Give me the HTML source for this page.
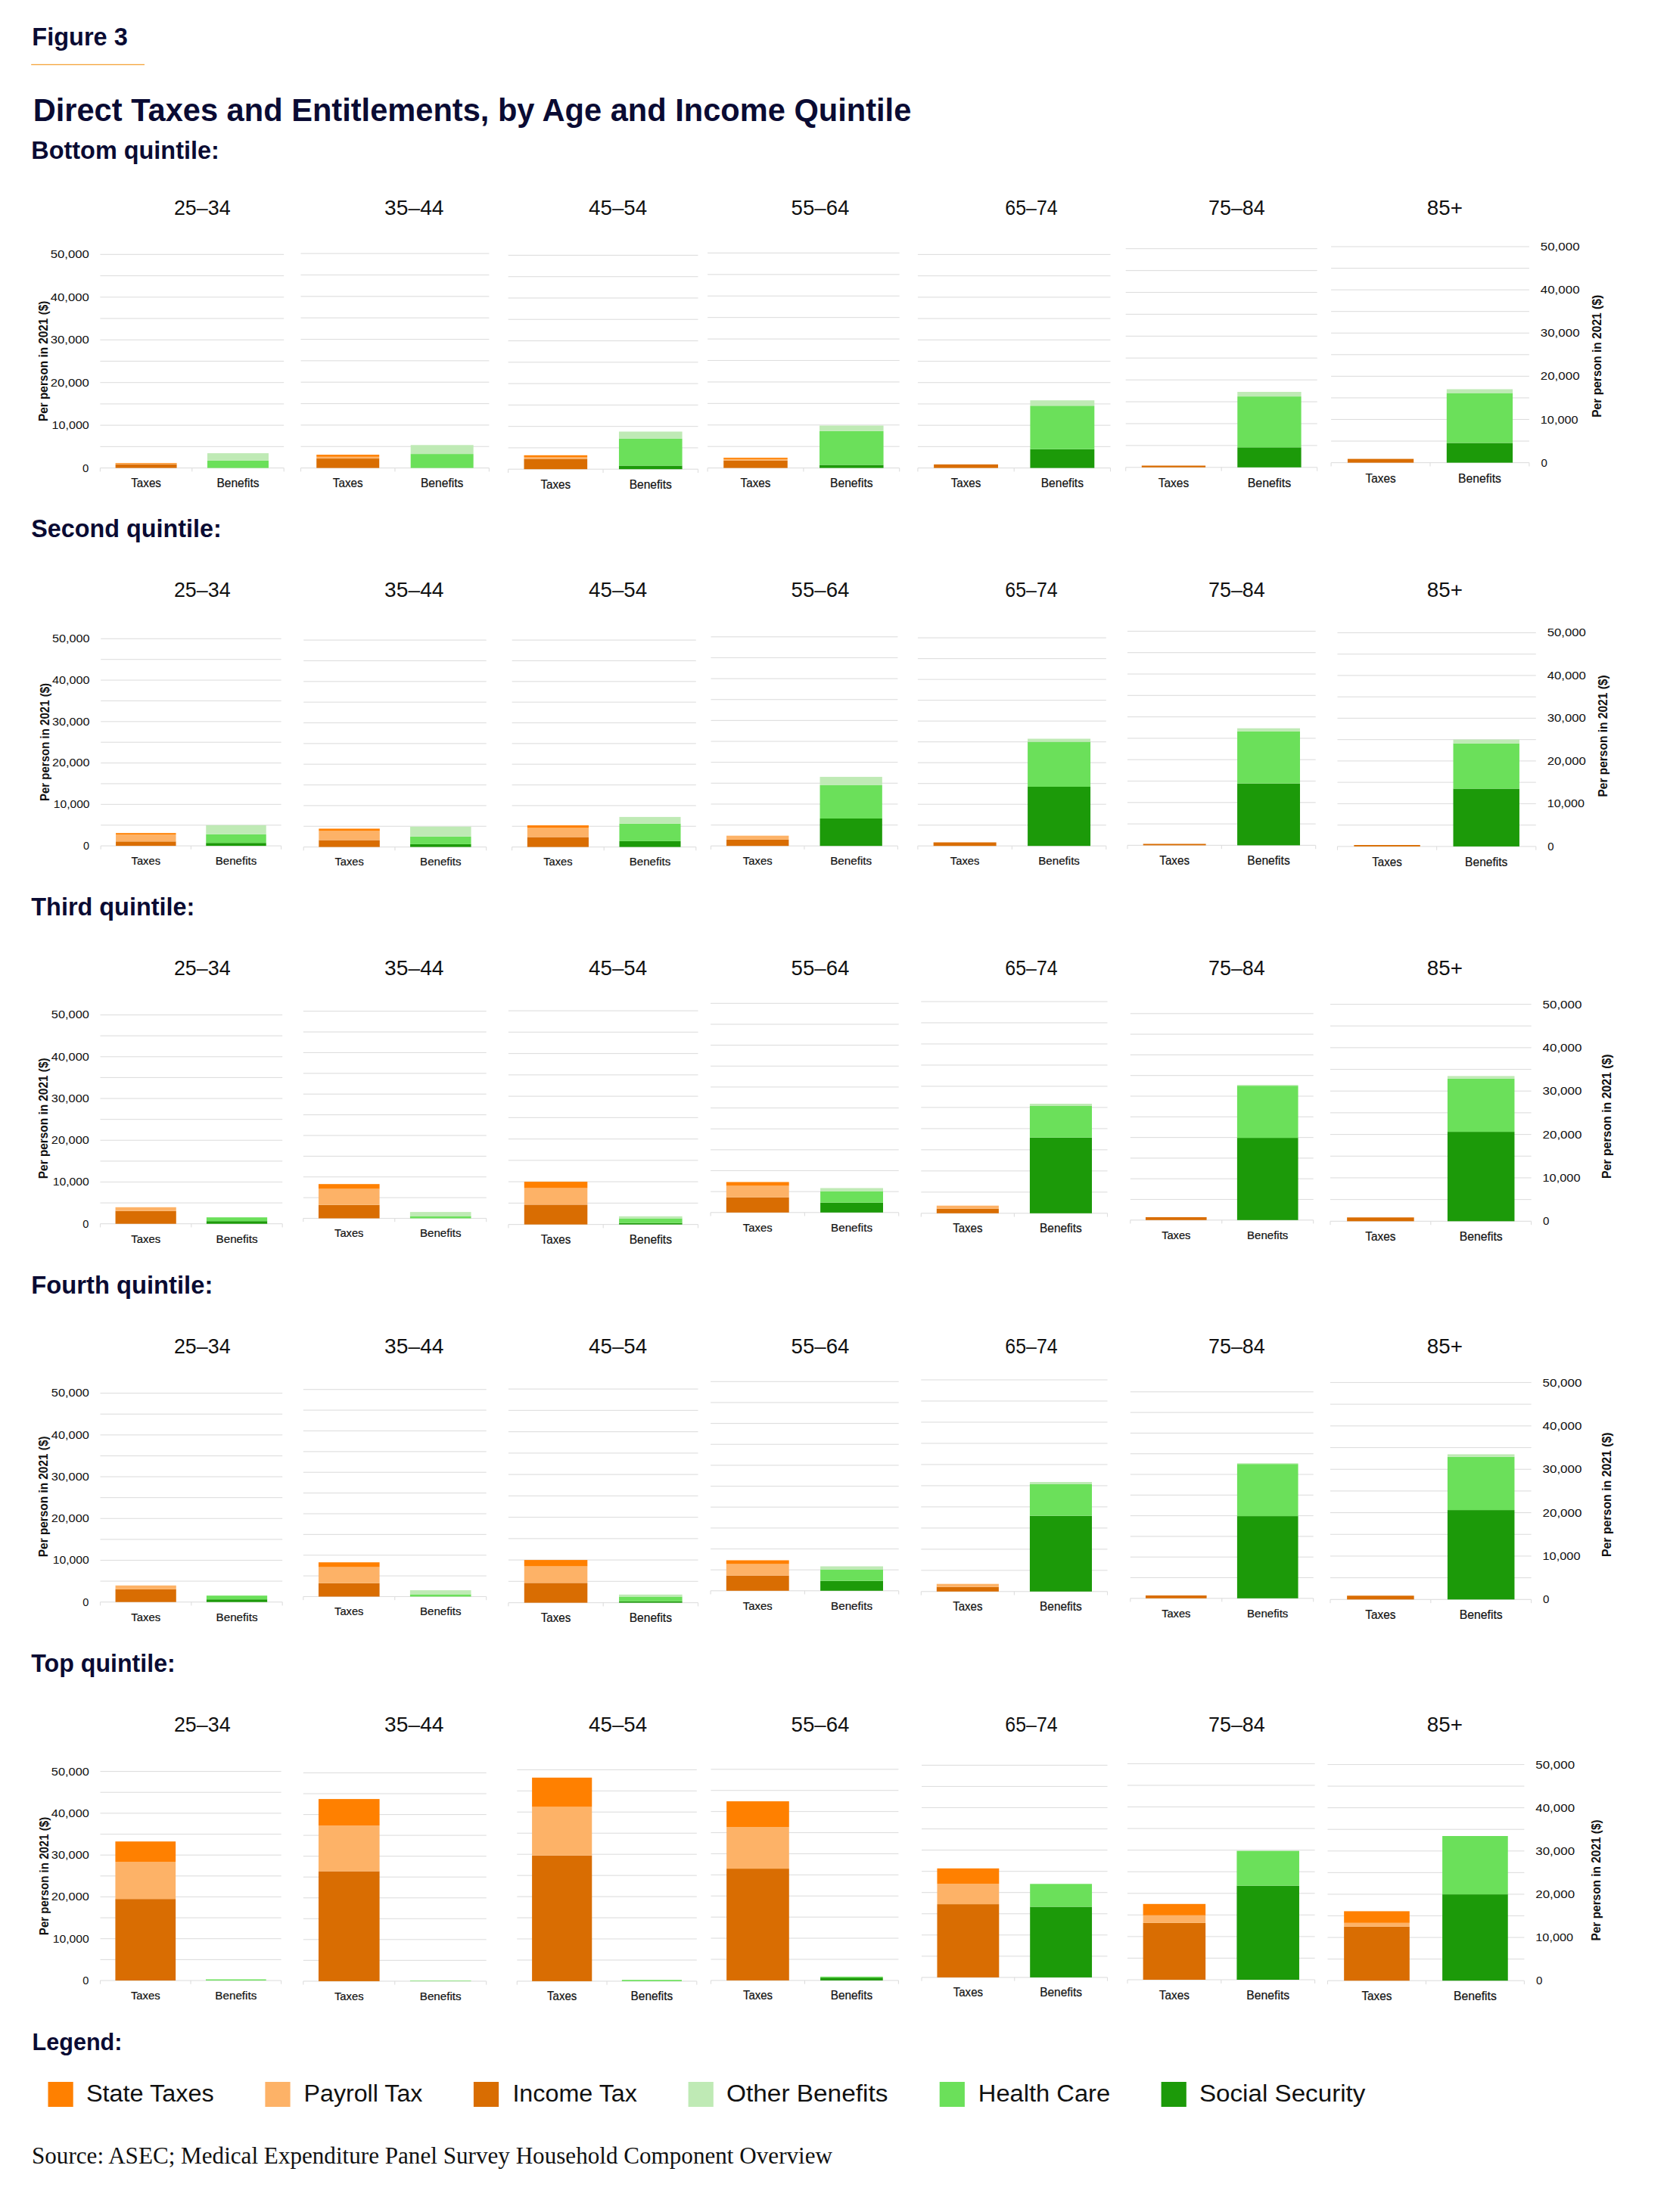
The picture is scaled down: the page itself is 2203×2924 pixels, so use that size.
<!DOCTYPE html>
<html><head><meta charset="utf-8"><style>
html,body{margin:0;padding:0;background:#fff;}
svg{display:block;}
</style></head><body>
<svg width="2203" height="2924" viewBox="0 0 2203 2924">
<rect width="2203" height="2924" fill="#ffffff"/>
<text x="42.3" y="60" font-family="Liberation Sans" font-weight="bold" font-size="32.5" fill="#0a0b33">Figure 3</text>
<rect x="41.2" y="84.8" width="149.8" height="1.3" fill="#f5a33a"/>
<text x="43.7" y="160.4" font-family="Liberation Sans" font-weight="bold" font-size="41.8" textLength="1160.6" lengthAdjust="spacingAndGlyphs" fill="#0a0b33">Direct Taxes and Entitlements, by Age and Income Quintile</text>
<text x="41.3" y="209.6" font-family="Liberation Sans" font-weight="bold" font-size="32.4" textLength="248.5" lengthAdjust="spacingAndGlyphs" fill="#0a0b33">Bottom quintile:</text>
<text x="267.3" y="283.6" text-anchor="middle" font-family="Liberation Sans" font-size="27.0" textLength="74.8" lengthAdjust="spacingAndGlyphs" fill="#111111">25–34</text>
<rect x="132.4" y="335.75" width="242.8" height="1.1" fill="#dedede"/>
<rect x="132.4" y="363.98" width="242.8" height="1.1" fill="#dedede"/>
<rect x="132.4" y="392.21" width="242.8" height="1.1" fill="#dedede"/>
<rect x="132.4" y="420.44" width="242.8" height="1.1" fill="#dedede"/>
<rect x="132.4" y="448.67" width="242.8" height="1.1" fill="#dedede"/>
<rect x="132.4" y="476.9" width="242.8" height="1.1" fill="#dedede"/>
<rect x="132.4" y="505.13" width="242.8" height="1.1" fill="#dedede"/>
<rect x="132.4" y="533.36" width="242.8" height="1.1" fill="#dedede"/>
<rect x="132.4" y="561.59" width="242.8" height="1.1" fill="#dedede"/>
<rect x="132.4" y="589.82" width="242.8" height="1.1" fill="#dedede"/>
<rect x="132.4" y="618.05" width="242.8" height="1.1" fill="#dedede"/>
<rect x="131.85" y="618.6" width="1.1" height="4.8" fill="#dedede"/>
<rect x="253.25" y="618.6" width="1.1" height="4.8" fill="#dedede"/>
<rect x="374.65" y="618.6" width="1.1" height="4.8" fill="#dedede"/>
<rect x="152.63" y="613.6" width="80.93" height="5" fill="#d96d02"/>
<rect x="152.63" y="612.9" width="80.93" height="0.7" fill="#fdb267"/>
<rect x="152.63" y="612.1" width="80.93" height="0.8" fill="#ff8000"/>
<rect x="274.03" y="608.9" width="80.93" height="9.7" fill="#6be05a"/>
<rect x="274.03" y="599.1" width="80.93" height="9.8" fill="#bfeab5"/>
<text x="193.1" y="644.29" text-anchor="middle" font-family="Liberation Sans" font-size="15.8" textLength="39.6" lengthAdjust="spacingAndGlyphs" stroke="#111111" stroke-width="0.2" fill="#111111">Taxes</text>
<text x="314.5" y="644.29" text-anchor="middle" font-family="Liberation Sans" font-size="15.8" textLength="56.2" lengthAdjust="spacingAndGlyphs" stroke="#111111" stroke-width="0.2" fill="#111111">Benefits</text>
<text x="117.8" y="341.3" text-anchor="end" font-family="Liberation Sans" font-size="14.9" textLength="51.15" lengthAdjust="spacingAndGlyphs" fill="#111111">50,000</text>
<text x="117.8" y="397.76" text-anchor="end" font-family="Liberation Sans" font-size="14.9" textLength="51.15" lengthAdjust="spacingAndGlyphs" fill="#111111">40,000</text>
<text x="117.8" y="454.22" text-anchor="end" font-family="Liberation Sans" font-size="14.9" textLength="51.15" lengthAdjust="spacingAndGlyphs" fill="#111111">30,000</text>
<text x="117.8" y="510.68" text-anchor="end" font-family="Liberation Sans" font-size="14.9" textLength="51.15" lengthAdjust="spacingAndGlyphs" fill="#111111">20,000</text>
<text x="117.8" y="567.14" text-anchor="end" font-family="Liberation Sans" font-size="14.9" textLength="49.25" lengthAdjust="spacingAndGlyphs" fill="#111111">10,000</text>
<text x="117.2" y="623.6" text-anchor="end" font-family="Liberation Sans" font-size="14.9" fill="#111111">0</text>
<text transform="translate(63.3,477.3) rotate(-90)" text-anchor="middle" font-family="Liberation Sans" font-weight="bold" font-size="15.8" textLength="159.4" lengthAdjust="spacingAndGlyphs" fill="#111111">Per person in 2021 ($)</text>
<text x="547.3" y="283.6" text-anchor="middle" font-family="Liberation Sans" font-size="27.0" textLength="78.4" lengthAdjust="spacingAndGlyphs" fill="#111111">35–44</text>
<rect x="397.5" y="334.55" width="248.9" height="1.1" fill="#dedede"/>
<rect x="397.5" y="362.9" width="248.9" height="1.1" fill="#dedede"/>
<rect x="397.5" y="391.25" width="248.9" height="1.1" fill="#dedede"/>
<rect x="397.5" y="419.6" width="248.9" height="1.1" fill="#dedede"/>
<rect x="397.5" y="447.95" width="248.9" height="1.1" fill="#dedede"/>
<rect x="397.5" y="476.3" width="248.9" height="1.1" fill="#dedede"/>
<rect x="397.5" y="504.65" width="248.9" height="1.1" fill="#dedede"/>
<rect x="397.5" y="533" width="248.9" height="1.1" fill="#dedede"/>
<rect x="397.5" y="561.35" width="248.9" height="1.1" fill="#dedede"/>
<rect x="397.5" y="589.7" width="248.9" height="1.1" fill="#dedede"/>
<rect x="397.5" y="618.05" width="248.9" height="1.1" fill="#dedede"/>
<rect x="396.95" y="618.6" width="1.1" height="4.82" fill="#dedede"/>
<rect x="521.4" y="618.6" width="1.1" height="4.82" fill="#dedede"/>
<rect x="645.85" y="618.6" width="1.1" height="4.82" fill="#dedede"/>
<rect x="418.24" y="606.1" width="82.97" height="12.5" fill="#d96d02"/>
<rect x="418.24" y="603.8" width="82.97" height="2.3" fill="#fdb267"/>
<rect x="418.24" y="601.1" width="82.97" height="2.7" fill="#ff8000"/>
<rect x="542.69" y="600.1" width="82.97" height="18.5" fill="#6be05a"/>
<rect x="542.69" y="588.3" width="82.97" height="11.8" fill="#bfeab5"/>
<text x="459.73" y="644.4" text-anchor="middle" font-family="Liberation Sans" font-size="15.87" textLength="39.77" lengthAdjust="spacingAndGlyphs" stroke="#111111" stroke-width="0.2" fill="#111111">Taxes</text>
<text x="584.17" y="644.4" text-anchor="middle" font-family="Liberation Sans" font-size="15.87" textLength="56.44" lengthAdjust="spacingAndGlyphs" stroke="#111111" stroke-width="0.2" fill="#111111">Benefits</text>
<text x="816.6" y="283.6" text-anchor="middle" font-family="Liberation Sans" font-size="27.0" textLength="77.1" lengthAdjust="spacingAndGlyphs" fill="#111111">45–54</text>
<rect x="671.6" y="336.85" width="250.9" height="1.1" fill="#dedede"/>
<rect x="671.6" y="365.13" width="250.9" height="1.1" fill="#dedede"/>
<rect x="671.6" y="393.41" width="250.9" height="1.1" fill="#dedede"/>
<rect x="671.6" y="421.69" width="250.9" height="1.1" fill="#dedede"/>
<rect x="671.6" y="449.97" width="250.9" height="1.1" fill="#dedede"/>
<rect x="671.6" y="478.25" width="250.9" height="1.1" fill="#dedede"/>
<rect x="671.6" y="506.53" width="250.9" height="1.1" fill="#dedede"/>
<rect x="671.6" y="534.81" width="250.9" height="1.1" fill="#dedede"/>
<rect x="671.6" y="563.09" width="250.9" height="1.1" fill="#dedede"/>
<rect x="671.6" y="591.37" width="250.9" height="1.1" fill="#dedede"/>
<rect x="671.6" y="619.65" width="250.9" height="1.1" fill="#dedede"/>
<rect x="671.05" y="620.2" width="1.1" height="4.81" fill="#dedede"/>
<rect x="796.5" y="620.2" width="1.1" height="4.81" fill="#dedede"/>
<rect x="921.95" y="620.2" width="1.1" height="4.81" fill="#dedede"/>
<rect x="692.51" y="606.5" width="83.63" height="13.7" fill="#d96d02"/>
<rect x="692.51" y="604.5" width="83.63" height="2" fill="#fdb267"/>
<rect x="692.51" y="601.8" width="83.63" height="2.7" fill="#ff8000"/>
<rect x="817.96" y="615.5" width="83.63" height="4.7" fill="#1c9a09"/>
<rect x="817.96" y="579.9" width="83.63" height="35.6" fill="#6be05a"/>
<rect x="817.96" y="570.5" width="83.63" height="9.4" fill="#bfeab5"/>
<text x="734.33" y="645.93" text-anchor="middle" font-family="Liberation Sans" font-size="15.83" textLength="39.67" lengthAdjust="spacingAndGlyphs" stroke="#111111" stroke-width="0.2" fill="#111111">Taxes</text>
<text x="859.78" y="645.93" text-anchor="middle" font-family="Liberation Sans" font-size="15.83" textLength="56.3" lengthAdjust="spacingAndGlyphs" stroke="#111111" stroke-width="0.2" fill="#111111">Benefits</text>
<text x="1084" y="283.6" text-anchor="middle" font-family="Liberation Sans" font-size="27.0" textLength="76.8" lengthAdjust="spacingAndGlyphs" fill="#111111">55–64</text>
<rect x="935.1" y="333.85" width="253.6" height="1.1" fill="#dedede"/>
<rect x="935.1" y="362.27" width="253.6" height="1.1" fill="#dedede"/>
<rect x="935.1" y="390.69" width="253.6" height="1.1" fill="#dedede"/>
<rect x="935.1" y="419.11" width="253.6" height="1.1" fill="#dedede"/>
<rect x="935.1" y="447.53" width="253.6" height="1.1" fill="#dedede"/>
<rect x="935.1" y="475.95" width="253.6" height="1.1" fill="#dedede"/>
<rect x="935.1" y="504.37" width="253.6" height="1.1" fill="#dedede"/>
<rect x="935.1" y="532.79" width="253.6" height="1.1" fill="#dedede"/>
<rect x="935.1" y="561.21" width="253.6" height="1.1" fill="#dedede"/>
<rect x="935.1" y="589.63" width="253.6" height="1.1" fill="#dedede"/>
<rect x="935.1" y="618.05" width="253.6" height="1.1" fill="#dedede"/>
<rect x="934.55" y="618.6" width="1.1" height="4.83" fill="#dedede"/>
<rect x="1061.35" y="618.6" width="1.1" height="4.83" fill="#dedede"/>
<rect x="1188.15" y="618.6" width="1.1" height="4.83" fill="#dedede"/>
<rect x="956.23" y="608.8" width="84.53" height="9.8" fill="#d96d02"/>
<rect x="956.23" y="606.9" width="84.53" height="1.9" fill="#fdb267"/>
<rect x="956.23" y="605.1" width="84.53" height="1.8" fill="#ff8000"/>
<rect x="1083.03" y="614.5" width="84.53" height="4.1" fill="#1c9a09"/>
<rect x="1083.03" y="569.9" width="84.53" height="44.6" fill="#6be05a"/>
<rect x="1083.03" y="562.5" width="84.53" height="7.4" fill="#bfeab5"/>
<text x="998.5" y="644.46" text-anchor="middle" font-family="Liberation Sans" font-size="15.91" textLength="39.87" lengthAdjust="spacingAndGlyphs" stroke="#111111" stroke-width="0.2" fill="#111111">Taxes</text>
<text x="1125.3" y="644.46" text-anchor="middle" font-family="Liberation Sans" font-size="15.91" textLength="56.58" lengthAdjust="spacingAndGlyphs" stroke="#111111" stroke-width="0.2" fill="#111111">Benefits</text>
<text x="1363" y="283.6" text-anchor="middle" font-family="Liberation Sans" font-size="27.0" textLength="69.4" lengthAdjust="spacingAndGlyphs" fill="#111111">65–74</text>
<rect x="1212.9" y="335.85" width="254.6" height="1.1" fill="#dedede"/>
<rect x="1212.9" y="364.07" width="254.6" height="1.1" fill="#dedede"/>
<rect x="1212.9" y="392.29" width="254.6" height="1.1" fill="#dedede"/>
<rect x="1212.9" y="420.51" width="254.6" height="1.1" fill="#dedede"/>
<rect x="1212.9" y="448.73" width="254.6" height="1.1" fill="#dedede"/>
<rect x="1212.9" y="476.95" width="254.6" height="1.1" fill="#dedede"/>
<rect x="1212.9" y="505.17" width="254.6" height="1.1" fill="#dedede"/>
<rect x="1212.9" y="533.39" width="254.6" height="1.1" fill="#dedede"/>
<rect x="1212.9" y="561.61" width="254.6" height="1.1" fill="#dedede"/>
<rect x="1212.9" y="589.83" width="254.6" height="1.1" fill="#dedede"/>
<rect x="1212.9" y="618.05" width="254.6" height="1.1" fill="#dedede"/>
<rect x="1212.35" y="618.6" width="1.1" height="4.8" fill="#dedede"/>
<rect x="1339.65" y="618.6" width="1.1" height="4.8" fill="#dedede"/>
<rect x="1466.95" y="618.6" width="1.1" height="4.8" fill="#dedede"/>
<rect x="1234.12" y="613.9" width="84.87" height="4.7" fill="#d96d02"/>
<rect x="1361.42" y="593.7" width="84.87" height="24.9" fill="#1c9a09"/>
<rect x="1361.42" y="536.3" width="84.87" height="57.4" fill="#6be05a"/>
<rect x="1361.42" y="529.2" width="84.87" height="7.1" fill="#bfeab5"/>
<text x="1276.55" y="644.28" text-anchor="middle" font-family="Liberation Sans" font-size="15.79" textLength="39.59" lengthAdjust="spacingAndGlyphs" stroke="#111111" stroke-width="0.2" fill="#111111">Taxes</text>
<text x="1403.85" y="644.28" text-anchor="middle" font-family="Liberation Sans" font-size="15.79" textLength="56.18" lengthAdjust="spacingAndGlyphs" stroke="#111111" stroke-width="0.2" fill="#111111">Benefits</text>
<text x="1634.4" y="283.6" text-anchor="middle" font-family="Liberation Sans" font-size="27.0" textLength="74.8" lengthAdjust="spacingAndGlyphs" fill="#111111">75–84</text>
<rect x="1487.7" y="328.15" width="253" height="1.1" fill="#dedede"/>
<rect x="1487.7" y="357.06" width="253" height="1.1" fill="#dedede"/>
<rect x="1487.7" y="385.97" width="253" height="1.1" fill="#dedede"/>
<rect x="1487.7" y="414.88" width="253" height="1.1" fill="#dedede"/>
<rect x="1487.7" y="443.79" width="253" height="1.1" fill="#dedede"/>
<rect x="1487.7" y="472.7" width="253" height="1.1" fill="#dedede"/>
<rect x="1487.7" y="501.61" width="253" height="1.1" fill="#dedede"/>
<rect x="1487.7" y="530.52" width="253" height="1.1" fill="#dedede"/>
<rect x="1487.7" y="559.43" width="253" height="1.1" fill="#dedede"/>
<rect x="1487.7" y="588.34" width="253" height="1.1" fill="#dedede"/>
<rect x="1487.7" y="617.25" width="253" height="1.1" fill="#dedede"/>
<rect x="1487.15" y="617.8" width="1.1" height="4.91" fill="#dedede"/>
<rect x="1613.65" y="617.8" width="1.1" height="4.91" fill="#dedede"/>
<rect x="1740.15" y="617.8" width="1.1" height="4.91" fill="#dedede"/>
<rect x="1508.78" y="615.5" width="84.33" height="2.3" fill="#d96d02"/>
<rect x="1635.28" y="591.3" width="84.33" height="26.5" fill="#1c9a09"/>
<rect x="1635.28" y="524.1" width="84.33" height="67.2" fill="#6be05a"/>
<rect x="1635.28" y="518" width="84.33" height="6.1" fill="#bfeab5"/>
<text x="1550.95" y="644.11" text-anchor="middle" font-family="Liberation Sans" font-size="16.18" textLength="40.55" lengthAdjust="spacingAndGlyphs" stroke="#111111" stroke-width="0.2" fill="#111111">Taxes</text>
<text x="1677.45" y="644.11" text-anchor="middle" font-family="Liberation Sans" font-size="16.18" textLength="57.55" lengthAdjust="spacingAndGlyphs" stroke="#111111" stroke-width="0.2" fill="#111111">Benefits</text>
<text x="1909.3" y="283.6" text-anchor="middle" font-family="Liberation Sans" font-size="27.0" textLength="47.1" lengthAdjust="spacingAndGlyphs" fill="#111111">85+</text>
<rect x="1759.1" y="325.45" width="261.8" height="1.1" fill="#dedede"/>
<rect x="1759.1" y="354.01" width="261.8" height="1.1" fill="#dedede"/>
<rect x="1759.1" y="382.57" width="261.8" height="1.1" fill="#dedede"/>
<rect x="1759.1" y="411.13" width="261.8" height="1.1" fill="#dedede"/>
<rect x="1759.1" y="439.69" width="261.8" height="1.1" fill="#dedede"/>
<rect x="1759.1" y="468.25" width="261.8" height="1.1" fill="#dedede"/>
<rect x="1759.1" y="496.81" width="261.8" height="1.1" fill="#dedede"/>
<rect x="1759.1" y="525.37" width="261.8" height="1.1" fill="#dedede"/>
<rect x="1759.1" y="553.93" width="261.8" height="1.1" fill="#dedede"/>
<rect x="1759.1" y="582.49" width="261.8" height="1.1" fill="#dedede"/>
<rect x="1759.1" y="611.05" width="261.8" height="1.1" fill="#dedede"/>
<rect x="1758.55" y="611.6" width="1.1" height="4.86" fill="#dedede"/>
<rect x="1889.45" y="611.6" width="1.1" height="4.86" fill="#dedede"/>
<rect x="2020.35" y="611.6" width="1.1" height="4.86" fill="#dedede"/>
<rect x="1780.92" y="606.6" width="87.27" height="5" fill="#d96d02"/>
<rect x="1911.82" y="585.5" width="87.27" height="26.1" fill="#1c9a09"/>
<rect x="1911.82" y="519.5" width="87.27" height="66" fill="#6be05a"/>
<rect x="1911.82" y="514.5" width="87.27" height="5" fill="#bfeab5"/>
<text x="1824.55" y="637.59" text-anchor="middle" font-family="Liberation Sans" font-size="15.98" textLength="40.06" lengthAdjust="spacingAndGlyphs" stroke="#111111" stroke-width="0.2" fill="#111111">Taxes</text>
<text x="1955.45" y="637.59" text-anchor="middle" font-family="Liberation Sans" font-size="15.98" textLength="56.86" lengthAdjust="spacingAndGlyphs" stroke="#111111" stroke-width="0.2" fill="#111111">Benefits</text>
<text x="2035.8" y="331.06" text-anchor="start" font-family="Liberation Sans" font-size="15.07" textLength="51.75" lengthAdjust="spacingAndGlyphs" fill="#111111">50,000</text>
<text x="2035.8" y="388.18" text-anchor="start" font-family="Liberation Sans" font-size="15.07" textLength="51.75" lengthAdjust="spacingAndGlyphs" fill="#111111">40,000</text>
<text x="2035.8" y="445.3" text-anchor="start" font-family="Liberation Sans" font-size="15.07" textLength="51.75" lengthAdjust="spacingAndGlyphs" fill="#111111">30,000</text>
<text x="2035.8" y="502.42" text-anchor="start" font-family="Liberation Sans" font-size="15.07" textLength="51.75" lengthAdjust="spacingAndGlyphs" fill="#111111">20,000</text>
<text x="2035.8" y="559.54" text-anchor="start" font-family="Liberation Sans" font-size="15.07" textLength="49.83" lengthAdjust="spacingAndGlyphs" fill="#111111">10,000</text>
<text x="2036.4" y="616.66" text-anchor="start" font-family="Liberation Sans" font-size="15.07" fill="#111111">0</text>
<text transform="translate(2116,470.85) rotate(-90)" text-anchor="middle" font-family="Liberation Sans" font-weight="bold" font-size="15.8" textLength="161.9" lengthAdjust="spacingAndGlyphs" fill="#111111">Per person in 2021 ($)</text>
<text x="41.3" y="709.9" font-family="Liberation Sans" font-weight="bold" font-size="32.4" textLength="251.5" lengthAdjust="spacingAndGlyphs" fill="#0a0b33">Second quintile:</text>
<text x="267.3" y="788.9" text-anchor="middle" font-family="Liberation Sans" font-size="27.0" textLength="74.8" lengthAdjust="spacingAndGlyphs" fill="#111111">25–34</text>
<rect x="133.2" y="843.75" width="238.4" height="1.1" fill="#dedede"/>
<rect x="133.2" y="871.13" width="238.4" height="1.1" fill="#dedede"/>
<rect x="133.2" y="898.51" width="238.4" height="1.1" fill="#dedede"/>
<rect x="133.2" y="925.89" width="238.4" height="1.1" fill="#dedede"/>
<rect x="133.2" y="953.27" width="238.4" height="1.1" fill="#dedede"/>
<rect x="133.2" y="980.65" width="238.4" height="1.1" fill="#dedede"/>
<rect x="133.2" y="1008.03" width="238.4" height="1.1" fill="#dedede"/>
<rect x="133.2" y="1035.41" width="238.4" height="1.1" fill="#dedede"/>
<rect x="133.2" y="1062.79" width="238.4" height="1.1" fill="#dedede"/>
<rect x="133.2" y="1090.17" width="238.4" height="1.1" fill="#dedede"/>
<rect x="133.2" y="1117.55" width="238.4" height="1.1" fill="#dedede"/>
<rect x="132.65" y="1118.1" width="1.1" height="4.65" fill="#dedede"/>
<rect x="251.85" y="1118.1" width="1.1" height="4.65" fill="#dedede"/>
<rect x="371.05" y="1118.1" width="1.1" height="4.65" fill="#dedede"/>
<rect x="153.07" y="1112.3" width="79.47" height="5.8" fill="#d96d02"/>
<rect x="153.07" y="1103.1" width="79.47" height="9.2" fill="#fdb267"/>
<rect x="153.07" y="1101.2" width="79.47" height="1.9" fill="#ff8000"/>
<rect x="272.27" y="1114.2" width="79.47" height="3.9" fill="#1c9a09"/>
<rect x="272.27" y="1102.7" width="79.47" height="11.5" fill="#6be05a"/>
<rect x="272.27" y="1090.8" width="79.47" height="11.9" fill="#bfeab5"/>
<text x="192.8" y="1143.02" text-anchor="middle" font-family="Liberation Sans" font-size="15.32" textLength="38.41" lengthAdjust="spacingAndGlyphs" stroke="#111111" stroke-width="0.2" fill="#111111">Taxes</text>
<text x="312" y="1143.02" text-anchor="middle" font-family="Liberation Sans" font-size="15.32" textLength="54.51" lengthAdjust="spacingAndGlyphs" stroke="#111111" stroke-width="0.2" fill="#111111">Benefits</text>
<text x="118.58" y="849.15" text-anchor="end" font-family="Liberation Sans" font-size="14.45" textLength="49.61" lengthAdjust="spacingAndGlyphs" fill="#111111">50,000</text>
<text x="118.58" y="903.91" text-anchor="end" font-family="Liberation Sans" font-size="14.45" textLength="49.61" lengthAdjust="spacingAndGlyphs" fill="#111111">40,000</text>
<text x="118.58" y="958.67" text-anchor="end" font-family="Liberation Sans" font-size="14.45" textLength="49.61" lengthAdjust="spacingAndGlyphs" fill="#111111">30,000</text>
<text x="118.58" y="1013.43" text-anchor="end" font-family="Liberation Sans" font-size="14.45" textLength="49.61" lengthAdjust="spacingAndGlyphs" fill="#111111">20,000</text>
<text x="118.58" y="1068.19" text-anchor="end" font-family="Liberation Sans" font-size="14.45" textLength="47.77" lengthAdjust="spacingAndGlyphs" fill="#111111">10,000</text>
<text x="118" y="1122.95" text-anchor="end" font-family="Liberation Sans" font-size="14.45" fill="#111111">0</text>
<text transform="translate(64.7,981) rotate(-90)" text-anchor="middle" font-family="Liberation Sans" font-weight="bold" font-size="15.8" textLength="156.2" lengthAdjust="spacingAndGlyphs" fill="#111111">Per person in 2021 ($)</text>
<text x="547.3" y="788.9" text-anchor="middle" font-family="Liberation Sans" font-size="27.0" textLength="78.4" lengthAdjust="spacingAndGlyphs" fill="#111111">35–44</text>
<rect x="401.2" y="845.55" width="241.5" height="1.1" fill="#dedede"/>
<rect x="401.2" y="872.9" width="241.5" height="1.1" fill="#dedede"/>
<rect x="401.2" y="900.25" width="241.5" height="1.1" fill="#dedede"/>
<rect x="401.2" y="927.6" width="241.5" height="1.1" fill="#dedede"/>
<rect x="401.2" y="954.95" width="241.5" height="1.1" fill="#dedede"/>
<rect x="401.2" y="982.3" width="241.5" height="1.1" fill="#dedede"/>
<rect x="401.2" y="1009.65" width="241.5" height="1.1" fill="#dedede"/>
<rect x="401.2" y="1037" width="241.5" height="1.1" fill="#dedede"/>
<rect x="401.2" y="1064.35" width="241.5" height="1.1" fill="#dedede"/>
<rect x="401.2" y="1091.7" width="241.5" height="1.1" fill="#dedede"/>
<rect x="401.2" y="1119.05" width="241.5" height="1.1" fill="#dedede"/>
<rect x="400.65" y="1119.6" width="1.1" height="4.65" fill="#dedede"/>
<rect x="521.4" y="1119.6" width="1.1" height="4.65" fill="#dedede"/>
<rect x="642.15" y="1119.6" width="1.1" height="4.65" fill="#dedede"/>
<rect x="421.32" y="1110.5" width="80.5" height="9.1" fill="#d96d02"/>
<rect x="421.32" y="1098.4" width="80.5" height="12.1" fill="#fdb267"/>
<rect x="421.32" y="1095.4" width="80.5" height="3" fill="#ff8000"/>
<rect x="542.08" y="1115.9" width="80.5" height="3.7" fill="#1c9a09"/>
<rect x="542.08" y="1105.8" width="80.5" height="10.1" fill="#6be05a"/>
<rect x="542.08" y="1092.7" width="80.5" height="13.1" fill="#bfeab5"/>
<text x="461.57" y="1144.49" text-anchor="middle" font-family="Liberation Sans" font-size="15.31" textLength="38.37" lengthAdjust="spacingAndGlyphs" stroke="#111111" stroke-width="0.2" fill="#111111">Taxes</text>
<text x="582.33" y="1144.49" text-anchor="middle" font-family="Liberation Sans" font-size="15.31" textLength="54.45" lengthAdjust="spacingAndGlyphs" stroke="#111111" stroke-width="0.2" fill="#111111">Benefits</text>
<text x="816.6" y="788.9" text-anchor="middle" font-family="Liberation Sans" font-size="27.0" textLength="77.1" lengthAdjust="spacingAndGlyphs" fill="#111111">45–54</text>
<rect x="676.6" y="845.55" width="243.2" height="1.1" fill="#dedede"/>
<rect x="676.6" y="872.9" width="243.2" height="1.1" fill="#dedede"/>
<rect x="676.6" y="900.25" width="243.2" height="1.1" fill="#dedede"/>
<rect x="676.6" y="927.6" width="243.2" height="1.1" fill="#dedede"/>
<rect x="676.6" y="954.95" width="243.2" height="1.1" fill="#dedede"/>
<rect x="676.6" y="982.3" width="243.2" height="1.1" fill="#dedede"/>
<rect x="676.6" y="1009.65" width="243.2" height="1.1" fill="#dedede"/>
<rect x="676.6" y="1037" width="243.2" height="1.1" fill="#dedede"/>
<rect x="676.6" y="1064.35" width="243.2" height="1.1" fill="#dedede"/>
<rect x="676.6" y="1091.7" width="243.2" height="1.1" fill="#dedede"/>
<rect x="676.6" y="1119.05" width="243.2" height="1.1" fill="#dedede"/>
<rect x="676.05" y="1119.6" width="1.1" height="4.65" fill="#dedede"/>
<rect x="797.65" y="1119.6" width="1.1" height="4.65" fill="#dedede"/>
<rect x="919.25" y="1119.6" width="1.1" height="4.65" fill="#dedede"/>
<rect x="696.87" y="1106.5" width="81.07" height="13.1" fill="#d96d02"/>
<rect x="696.87" y="1094.4" width="81.07" height="12.1" fill="#fdb267"/>
<rect x="696.87" y="1091" width="81.07" height="3.4" fill="#ff8000"/>
<rect x="818.47" y="1111.9" width="81.07" height="7.7" fill="#1c9a09"/>
<rect x="818.47" y="1088.7" width="81.07" height="23.2" fill="#6be05a"/>
<rect x="818.47" y="1079.9" width="81.07" height="8.8" fill="#bfeab5"/>
<text x="737.4" y="1144.49" text-anchor="middle" font-family="Liberation Sans" font-size="15.31" textLength="38.37" lengthAdjust="spacingAndGlyphs" stroke="#111111" stroke-width="0.2" fill="#111111">Taxes</text>
<text x="859" y="1144.49" text-anchor="middle" font-family="Liberation Sans" font-size="15.31" textLength="54.45" lengthAdjust="spacingAndGlyphs" stroke="#111111" stroke-width="0.2" fill="#111111">Benefits</text>
<text x="1084" y="788.9" text-anchor="middle" font-family="Liberation Sans" font-size="27.0" textLength="76.8" lengthAdjust="spacingAndGlyphs" fill="#111111">55–64</text>
<rect x="939.5" y="841.25" width="246.9" height="1.1" fill="#dedede"/>
<rect x="939.5" y="868.89" width="246.9" height="1.1" fill="#dedede"/>
<rect x="939.5" y="896.53" width="246.9" height="1.1" fill="#dedede"/>
<rect x="939.5" y="924.17" width="246.9" height="1.1" fill="#dedede"/>
<rect x="939.5" y="951.81" width="246.9" height="1.1" fill="#dedede"/>
<rect x="939.5" y="979.45" width="246.9" height="1.1" fill="#dedede"/>
<rect x="939.5" y="1007.09" width="246.9" height="1.1" fill="#dedede"/>
<rect x="939.5" y="1034.73" width="246.9" height="1.1" fill="#dedede"/>
<rect x="939.5" y="1062.37" width="246.9" height="1.1" fill="#dedede"/>
<rect x="939.5" y="1090.01" width="246.9" height="1.1" fill="#dedede"/>
<rect x="939.5" y="1117.65" width="246.9" height="1.1" fill="#dedede"/>
<rect x="938.95" y="1118.2" width="1.1" height="4.7" fill="#dedede"/>
<rect x="1062.4" y="1118.2" width="1.1" height="4.7" fill="#dedede"/>
<rect x="1185.85" y="1118.2" width="1.1" height="4.7" fill="#dedede"/>
<rect x="960.08" y="1109.8" width="82.3" height="8.4" fill="#d96d02"/>
<rect x="960.08" y="1105.3" width="82.3" height="4.5" fill="#fdb267"/>
<rect x="960.08" y="1104.8" width="82.3" height="0.5" fill="#ff8000"/>
<rect x="1083.53" y="1082" width="82.3" height="36.2" fill="#1c9a09"/>
<rect x="1083.53" y="1037.6" width="82.3" height="44.4" fill="#6be05a"/>
<rect x="1083.53" y="1026.9" width="82.3" height="10.7" fill="#bfeab5"/>
<text x="1001.23" y="1143.35" text-anchor="middle" font-family="Liberation Sans" font-size="15.47" textLength="38.77" lengthAdjust="spacingAndGlyphs" stroke="#111111" stroke-width="0.2" fill="#111111">Taxes</text>
<text x="1124.68" y="1143.35" text-anchor="middle" font-family="Liberation Sans" font-size="15.47" textLength="55.03" lengthAdjust="spacingAndGlyphs" stroke="#111111" stroke-width="0.2" fill="#111111">Benefits</text>
<text x="1363" y="788.9" text-anchor="middle" font-family="Liberation Sans" font-size="27.0" textLength="69.4" lengthAdjust="spacingAndGlyphs" fill="#111111">65–74</text>
<rect x="1212.9" y="842.55" width="248.9" height="1.1" fill="#dedede"/>
<rect x="1212.9" y="870.06" width="248.9" height="1.1" fill="#dedede"/>
<rect x="1212.9" y="897.57" width="248.9" height="1.1" fill="#dedede"/>
<rect x="1212.9" y="925.08" width="248.9" height="1.1" fill="#dedede"/>
<rect x="1212.9" y="952.59" width="248.9" height="1.1" fill="#dedede"/>
<rect x="1212.9" y="980.1" width="248.9" height="1.1" fill="#dedede"/>
<rect x="1212.9" y="1007.61" width="248.9" height="1.1" fill="#dedede"/>
<rect x="1212.9" y="1035.12" width="248.9" height="1.1" fill="#dedede"/>
<rect x="1212.9" y="1062.63" width="248.9" height="1.1" fill="#dedede"/>
<rect x="1212.9" y="1090.14" width="248.9" height="1.1" fill="#dedede"/>
<rect x="1212.9" y="1117.65" width="248.9" height="1.1" fill="#dedede"/>
<rect x="1212.35" y="1118.2" width="1.1" height="4.68" fill="#dedede"/>
<rect x="1336.8" y="1118.2" width="1.1" height="4.68" fill="#dedede"/>
<rect x="1461.25" y="1118.2" width="1.1" height="4.68" fill="#dedede"/>
<rect x="1233.64" y="1113.5" width="82.97" height="4.7" fill="#d96d02"/>
<rect x="1358.09" y="1040" width="82.97" height="78.2" fill="#1c9a09"/>
<rect x="1358.09" y="980.5" width="82.97" height="59.5" fill="#6be05a"/>
<rect x="1358.09" y="976.5" width="82.97" height="4" fill="#bfeab5"/>
<text x="1275.12" y="1143.23" text-anchor="middle" font-family="Liberation Sans" font-size="15.4" textLength="38.59" lengthAdjust="spacingAndGlyphs" stroke="#111111" stroke-width="0.2" fill="#111111">Taxes</text>
<text x="1399.58" y="1143.23" text-anchor="middle" font-family="Liberation Sans" font-size="15.4" textLength="54.77" lengthAdjust="spacingAndGlyphs" stroke="#111111" stroke-width="0.2" fill="#111111">Benefits</text>
<text x="1634.4" y="788.9" text-anchor="middle" font-family="Liberation Sans" font-size="27.0" textLength="74.8" lengthAdjust="spacingAndGlyphs" fill="#111111">75–84</text>
<rect x="1490" y="833.85" width="248.7" height="1.1" fill="#dedede"/>
<rect x="1490" y="862.15" width="248.7" height="1.1" fill="#dedede"/>
<rect x="1490" y="890.45" width="248.7" height="1.1" fill="#dedede"/>
<rect x="1490" y="918.75" width="248.7" height="1.1" fill="#dedede"/>
<rect x="1490" y="947.05" width="248.7" height="1.1" fill="#dedede"/>
<rect x="1490" y="975.35" width="248.7" height="1.1" fill="#dedede"/>
<rect x="1490" y="1003.65" width="248.7" height="1.1" fill="#dedede"/>
<rect x="1490" y="1031.95" width="248.7" height="1.1" fill="#dedede"/>
<rect x="1490" y="1060.25" width="248.7" height="1.1" fill="#dedede"/>
<rect x="1490" y="1088.55" width="248.7" height="1.1" fill="#dedede"/>
<rect x="1490" y="1116.85" width="248.7" height="1.1" fill="#dedede"/>
<rect x="1489.45" y="1117.4" width="1.1" height="4.81" fill="#dedede"/>
<rect x="1613.8" y="1117.4" width="1.1" height="4.81" fill="#dedede"/>
<rect x="1738.15" y="1117.4" width="1.1" height="4.81" fill="#dedede"/>
<rect x="1510.72" y="1115.5" width="82.9" height="1.9" fill="#d96d02"/>
<rect x="1635.08" y="1035.6" width="82.9" height="81.8" fill="#1c9a09"/>
<rect x="1635.08" y="966.9" width="82.9" height="68.7" fill="#6be05a"/>
<rect x="1635.08" y="962.7" width="82.9" height="4.2" fill="#bfeab5"/>
<text x="1552.17" y="1143.15" text-anchor="middle" font-family="Liberation Sans" font-size="15.84" textLength="39.7" lengthAdjust="spacingAndGlyphs" stroke="#111111" stroke-width="0.2" fill="#111111">Taxes</text>
<text x="1676.53" y="1143.15" text-anchor="middle" font-family="Liberation Sans" font-size="15.84" textLength="56.34" lengthAdjust="spacingAndGlyphs" stroke="#111111" stroke-width="0.2" fill="#111111">Benefits</text>
<text x="1909.3" y="788.9" text-anchor="middle" font-family="Liberation Sans" font-size="27.0" textLength="47.1" lengthAdjust="spacingAndGlyphs" fill="#111111">85+</text>
<rect x="1767.5" y="835.85" width="262.3" height="1.1" fill="#dedede"/>
<rect x="1767.5" y="864.1" width="262.3" height="1.1" fill="#dedede"/>
<rect x="1767.5" y="892.35" width="262.3" height="1.1" fill="#dedede"/>
<rect x="1767.5" y="920.6" width="262.3" height="1.1" fill="#dedede"/>
<rect x="1767.5" y="948.85" width="262.3" height="1.1" fill="#dedede"/>
<rect x="1767.5" y="977.1" width="262.3" height="1.1" fill="#dedede"/>
<rect x="1767.5" y="1005.35" width="262.3" height="1.1" fill="#dedede"/>
<rect x="1767.5" y="1033.6" width="262.3" height="1.1" fill="#dedede"/>
<rect x="1767.5" y="1061.85" width="262.3" height="1.1" fill="#dedede"/>
<rect x="1767.5" y="1090.1" width="262.3" height="1.1" fill="#dedede"/>
<rect x="1767.5" y="1118.35" width="262.3" height="1.1" fill="#dedede"/>
<rect x="1766.95" y="1118.9" width="1.1" height="4.8" fill="#dedede"/>
<rect x="1898.1" y="1118.9" width="1.1" height="4.8" fill="#dedede"/>
<rect x="2029.25" y="1118.9" width="1.1" height="4.8" fill="#dedede"/>
<rect x="1789.36" y="1117" width="87.43" height="1.9" fill="#d96d02"/>
<rect x="1920.51" y="1042.5" width="87.43" height="76.4" fill="#1c9a09"/>
<rect x="1920.51" y="982.6" width="87.43" height="59.9" fill="#6be05a"/>
<rect x="1920.51" y="977.6" width="87.43" height="5" fill="#bfeab5"/>
<text x="1833.08" y="1144.61" text-anchor="middle" font-family="Liberation Sans" font-size="15.81" textLength="39.63" lengthAdjust="spacingAndGlyphs" stroke="#111111" stroke-width="0.2" fill="#111111">Taxes</text>
<text x="1964.22" y="1144.61" text-anchor="middle" font-family="Liberation Sans" font-size="15.81" textLength="56.24" lengthAdjust="spacingAndGlyphs" stroke="#111111" stroke-width="0.2" fill="#111111">Benefits</text>
<text x="2044.7" y="841.4" text-anchor="start" font-family="Liberation Sans" font-size="14.91" textLength="51.19" lengthAdjust="spacingAndGlyphs" fill="#111111">50,000</text>
<text x="2044.7" y="897.9" text-anchor="start" font-family="Liberation Sans" font-size="14.91" textLength="51.19" lengthAdjust="spacingAndGlyphs" fill="#111111">40,000</text>
<text x="2044.7" y="954.4" text-anchor="start" font-family="Liberation Sans" font-size="14.91" textLength="51.19" lengthAdjust="spacingAndGlyphs" fill="#111111">30,000</text>
<text x="2044.7" y="1010.9" text-anchor="start" font-family="Liberation Sans" font-size="14.91" textLength="51.19" lengthAdjust="spacingAndGlyphs" fill="#111111">20,000</text>
<text x="2044.7" y="1067.4" text-anchor="start" font-family="Liberation Sans" font-size="14.91" textLength="49.29" lengthAdjust="spacingAndGlyphs" fill="#111111">10,000</text>
<text x="2045.3" y="1123.9" text-anchor="start" font-family="Liberation Sans" font-size="14.91" fill="#111111">0</text>
<text transform="translate(2124.3,973) rotate(-90)" text-anchor="middle" font-family="Liberation Sans" font-weight="bold" font-size="15.8" textLength="161.2" lengthAdjust="spacingAndGlyphs" fill="#111111">Per person in 2021 ($)</text>
<text x="41.3" y="1209.9" font-family="Liberation Sans" font-weight="bold" font-size="32.4" textLength="216" lengthAdjust="spacingAndGlyphs" fill="#0a0b33">Third quintile:</text>
<text x="267.3" y="1288.9" text-anchor="middle" font-family="Liberation Sans" font-size="27.0" textLength="74.8" lengthAdjust="spacingAndGlyphs" fill="#111111">25–34</text>
<rect x="132.5" y="1341.05" width="240.7" height="1.1" fill="#dedede"/>
<rect x="132.5" y="1368.66" width="240.7" height="1.1" fill="#dedede"/>
<rect x="132.5" y="1396.27" width="240.7" height="1.1" fill="#dedede"/>
<rect x="132.5" y="1423.88" width="240.7" height="1.1" fill="#dedede"/>
<rect x="132.5" y="1451.49" width="240.7" height="1.1" fill="#dedede"/>
<rect x="132.5" y="1479.1" width="240.7" height="1.1" fill="#dedede"/>
<rect x="132.5" y="1506.71" width="240.7" height="1.1" fill="#dedede"/>
<rect x="132.5" y="1534.32" width="240.7" height="1.1" fill="#dedede"/>
<rect x="132.5" y="1561.93" width="240.7" height="1.1" fill="#dedede"/>
<rect x="132.5" y="1589.54" width="240.7" height="1.1" fill="#dedede"/>
<rect x="132.5" y="1617.15" width="240.7" height="1.1" fill="#dedede"/>
<rect x="131.95" y="1617.7" width="1.1" height="4.69" fill="#dedede"/>
<rect x="252.3" y="1617.7" width="1.1" height="4.69" fill="#dedede"/>
<rect x="372.65" y="1617.7" width="1.1" height="4.69" fill="#dedede"/>
<rect x="152.56" y="1600.8" width="80.23" height="16.9" fill="#d96d02"/>
<rect x="152.56" y="1595.8" width="80.23" height="5" fill="#fdb267"/>
<rect x="272.91" y="1614.2" width="80.23" height="3.5" fill="#1c9a09"/>
<rect x="272.91" y="1609.2" width="80.23" height="5" fill="#6be05a"/>
<text x="192.68" y="1642.83" text-anchor="middle" font-family="Liberation Sans" font-size="15.45" textLength="38.73" lengthAdjust="spacingAndGlyphs" stroke="#111111" stroke-width="0.2" fill="#111111">Taxes</text>
<text x="313.02" y="1642.83" text-anchor="middle" font-family="Liberation Sans" font-size="15.45" textLength="54.97" lengthAdjust="spacingAndGlyphs" stroke="#111111" stroke-width="0.2" fill="#111111">Benefits</text>
<text x="117.88" y="1346.49" text-anchor="end" font-family="Liberation Sans" font-size="14.57" textLength="50.03" lengthAdjust="spacingAndGlyphs" fill="#111111">50,000</text>
<text x="117.88" y="1401.71" text-anchor="end" font-family="Liberation Sans" font-size="14.57" textLength="50.03" lengthAdjust="spacingAndGlyphs" fill="#111111">40,000</text>
<text x="117.88" y="1456.93" text-anchor="end" font-family="Liberation Sans" font-size="14.57" textLength="50.03" lengthAdjust="spacingAndGlyphs" fill="#111111">30,000</text>
<text x="117.88" y="1512.15" text-anchor="end" font-family="Liberation Sans" font-size="14.57" textLength="50.03" lengthAdjust="spacingAndGlyphs" fill="#111111">20,000</text>
<text x="117.88" y="1567.37" text-anchor="end" font-family="Liberation Sans" font-size="14.57" textLength="48.17" lengthAdjust="spacingAndGlyphs" fill="#111111">10,000</text>
<text x="117.3" y="1622.59" text-anchor="end" font-family="Liberation Sans" font-size="14.57" fill="#111111">0</text>
<text transform="translate(63.3,1478.3) rotate(-90)" text-anchor="middle" font-family="Liberation Sans" font-weight="bold" font-size="15.8" textLength="159.7" lengthAdjust="spacingAndGlyphs" fill="#111111">Per person in 2021 ($)</text>
<text x="547.3" y="1288.9" text-anchor="middle" font-family="Liberation Sans" font-size="27.0" textLength="78.4" lengthAdjust="spacingAndGlyphs" fill="#111111">35–44</text>
<rect x="400.8" y="1336.15" width="241.9" height="1.1" fill="#dedede"/>
<rect x="400.8" y="1363.53" width="241.9" height="1.1" fill="#dedede"/>
<rect x="400.8" y="1390.91" width="241.9" height="1.1" fill="#dedede"/>
<rect x="400.8" y="1418.29" width="241.9" height="1.1" fill="#dedede"/>
<rect x="400.8" y="1445.67" width="241.9" height="1.1" fill="#dedede"/>
<rect x="400.8" y="1473.05" width="241.9" height="1.1" fill="#dedede"/>
<rect x="400.8" y="1500.43" width="241.9" height="1.1" fill="#dedede"/>
<rect x="400.8" y="1527.81" width="241.9" height="1.1" fill="#dedede"/>
<rect x="400.8" y="1555.19" width="241.9" height="1.1" fill="#dedede"/>
<rect x="400.8" y="1582.57" width="241.9" height="1.1" fill="#dedede"/>
<rect x="400.8" y="1609.95" width="241.9" height="1.1" fill="#dedede"/>
<rect x="400.25" y="1610.5" width="1.1" height="4.65" fill="#dedede"/>
<rect x="521.2" y="1610.5" width="1.1" height="4.65" fill="#dedede"/>
<rect x="642.15" y="1610.5" width="1.1" height="4.65" fill="#dedede"/>
<rect x="420.96" y="1592.7" width="80.63" height="17.8" fill="#d96d02"/>
<rect x="420.96" y="1571.5" width="80.63" height="21.2" fill="#fdb267"/>
<rect x="420.96" y="1565.2" width="80.63" height="6.3" fill="#ff8000"/>
<rect x="541.91" y="1607.5" width="80.63" height="3" fill="#6be05a"/>
<rect x="541.91" y="1602.1" width="80.63" height="5.4" fill="#bfeab5"/>
<text x="461.28" y="1635.42" text-anchor="middle" font-family="Liberation Sans" font-size="15.32" textLength="38.41" lengthAdjust="spacingAndGlyphs" stroke="#111111" stroke-width="0.2" fill="#111111">Taxes</text>
<text x="582.23" y="1635.42" text-anchor="middle" font-family="Liberation Sans" font-size="15.32" textLength="54.51" lengthAdjust="spacingAndGlyphs" stroke="#111111" stroke-width="0.2" fill="#111111">Benefits</text>
<text x="816.6" y="1288.9" text-anchor="middle" font-family="Liberation Sans" font-size="27.0" textLength="77.1" lengthAdjust="spacingAndGlyphs" fill="#111111">45–54</text>
<rect x="671.9" y="1335.55" width="250.6" height="1.1" fill="#dedede"/>
<rect x="671.9" y="1363.8" width="250.6" height="1.1" fill="#dedede"/>
<rect x="671.9" y="1392.05" width="250.6" height="1.1" fill="#dedede"/>
<rect x="671.9" y="1420.3" width="250.6" height="1.1" fill="#dedede"/>
<rect x="671.9" y="1448.55" width="250.6" height="1.1" fill="#dedede"/>
<rect x="671.9" y="1476.8" width="250.6" height="1.1" fill="#dedede"/>
<rect x="671.9" y="1505.05" width="250.6" height="1.1" fill="#dedede"/>
<rect x="671.9" y="1533.3" width="250.6" height="1.1" fill="#dedede"/>
<rect x="671.9" y="1561.55" width="250.6" height="1.1" fill="#dedede"/>
<rect x="671.9" y="1589.8" width="250.6" height="1.1" fill="#dedede"/>
<rect x="671.9" y="1618.05" width="250.6" height="1.1" fill="#dedede"/>
<rect x="671.35" y="1618.6" width="1.1" height="4.8" fill="#dedede"/>
<rect x="796.65" y="1618.6" width="1.1" height="4.8" fill="#dedede"/>
<rect x="921.95" y="1618.6" width="1.1" height="4.8" fill="#dedede"/>
<rect x="692.78" y="1592.4" width="83.53" height="26.2" fill="#d96d02"/>
<rect x="692.78" y="1570.5" width="83.53" height="21.9" fill="#fdb267"/>
<rect x="692.78" y="1562.1" width="83.53" height="8.4" fill="#ff8000"/>
<rect x="818.08" y="1616.6" width="83.53" height="2" fill="#1c9a09"/>
<rect x="818.08" y="1610.5" width="83.53" height="6.1" fill="#6be05a"/>
<rect x="818.08" y="1607.8" width="83.53" height="2.7" fill="#bfeab5"/>
<text x="734.55" y="1644.31" text-anchor="middle" font-family="Liberation Sans" font-size="15.81" textLength="39.63" lengthAdjust="spacingAndGlyphs" stroke="#111111" stroke-width="0.2" fill="#111111">Taxes</text>
<text x="859.85" y="1644.31" text-anchor="middle" font-family="Liberation Sans" font-size="15.81" textLength="56.24" lengthAdjust="spacingAndGlyphs" stroke="#111111" stroke-width="0.2" fill="#111111">Benefits</text>
<text x="1084" y="1288.9" text-anchor="middle" font-family="Liberation Sans" font-size="27.0" textLength="76.8" lengthAdjust="spacingAndGlyphs" fill="#111111">55–64</text>
<rect x="939.1" y="1325.75" width="248.6" height="1.1" fill="#dedede"/>
<rect x="939.1" y="1353.4" width="248.6" height="1.1" fill="#dedede"/>
<rect x="939.1" y="1381.05" width="248.6" height="1.1" fill="#dedede"/>
<rect x="939.1" y="1408.7" width="248.6" height="1.1" fill="#dedede"/>
<rect x="939.1" y="1436.35" width="248.6" height="1.1" fill="#dedede"/>
<rect x="939.1" y="1464" width="248.6" height="1.1" fill="#dedede"/>
<rect x="939.1" y="1491.65" width="248.6" height="1.1" fill="#dedede"/>
<rect x="939.1" y="1519.3" width="248.6" height="1.1" fill="#dedede"/>
<rect x="939.1" y="1546.95" width="248.6" height="1.1" fill="#dedede"/>
<rect x="939.1" y="1574.6" width="248.6" height="1.1" fill="#dedede"/>
<rect x="939.1" y="1602.25" width="248.6" height="1.1" fill="#dedede"/>
<rect x="938.55" y="1602.8" width="1.1" height="4.7" fill="#dedede"/>
<rect x="1062.85" y="1602.8" width="1.1" height="4.7" fill="#dedede"/>
<rect x="1187.15" y="1602.8" width="1.1" height="4.7" fill="#dedede"/>
<rect x="959.82" y="1582.6" width="82.87" height="20.2" fill="#d96d02"/>
<rect x="959.82" y="1567.5" width="82.87" height="15.1" fill="#fdb267"/>
<rect x="959.82" y="1562.5" width="82.87" height="5" fill="#ff8000"/>
<rect x="1084.12" y="1589.7" width="82.87" height="13.1" fill="#1c9a09"/>
<rect x="1084.12" y="1574.6" width="82.87" height="15.1" fill="#6be05a"/>
<rect x="1084.12" y="1570.5" width="82.87" height="4.1" fill="#bfeab5"/>
<text x="1001.25" y="1627.96" text-anchor="middle" font-family="Liberation Sans" font-size="15.48" textLength="38.79" lengthAdjust="spacingAndGlyphs" stroke="#111111" stroke-width="0.2" fill="#111111">Taxes</text>
<text x="1125.55" y="1627.96" text-anchor="middle" font-family="Liberation Sans" font-size="15.48" textLength="55.05" lengthAdjust="spacingAndGlyphs" stroke="#111111" stroke-width="0.2" fill="#111111">Benefits</text>
<text x="1363" y="1288.9" text-anchor="middle" font-family="Liberation Sans" font-size="27.0" textLength="69.4" lengthAdjust="spacingAndGlyphs" fill="#111111">65–74</text>
<rect x="1217.3" y="1323.45" width="246.2" height="1.1" fill="#dedede"/>
<rect x="1217.3" y="1351.43" width="246.2" height="1.1" fill="#dedede"/>
<rect x="1217.3" y="1379.41" width="246.2" height="1.1" fill="#dedede"/>
<rect x="1217.3" y="1407.39" width="246.2" height="1.1" fill="#dedede"/>
<rect x="1217.3" y="1435.37" width="246.2" height="1.1" fill="#dedede"/>
<rect x="1217.3" y="1463.35" width="246.2" height="1.1" fill="#dedede"/>
<rect x="1217.3" y="1491.33" width="246.2" height="1.1" fill="#dedede"/>
<rect x="1217.3" y="1519.31" width="246.2" height="1.1" fill="#dedede"/>
<rect x="1217.3" y="1547.29" width="246.2" height="1.1" fill="#dedede"/>
<rect x="1217.3" y="1575.27" width="246.2" height="1.1" fill="#dedede"/>
<rect x="1217.3" y="1603.25" width="246.2" height="1.1" fill="#dedede"/>
<rect x="1216.75" y="1603.8" width="1.1" height="4.76" fill="#dedede"/>
<rect x="1339.85" y="1603.8" width="1.1" height="4.76" fill="#dedede"/>
<rect x="1462.95" y="1603.8" width="1.1" height="4.76" fill="#dedede"/>
<rect x="1237.82" y="1597.7" width="82.07" height="6.1" fill="#d96d02"/>
<rect x="1237.82" y="1593.7" width="82.07" height="4" fill="#fdb267"/>
<rect x="1360.92" y="1503.7" width="82.07" height="100.1" fill="#1c9a09"/>
<rect x="1360.92" y="1462" width="82.07" height="41.7" fill="#6be05a"/>
<rect x="1360.92" y="1459" width="82.07" height="3" fill="#bfeab5"/>
<text x="1278.85" y="1629.26" text-anchor="middle" font-family="Liberation Sans" font-size="15.66" textLength="39.25" lengthAdjust="spacingAndGlyphs" stroke="#111111" stroke-width="0.2" fill="#111111">Taxes</text>
<text x="1401.95" y="1629.26" text-anchor="middle" font-family="Liberation Sans" font-size="15.66" textLength="55.7" lengthAdjust="spacingAndGlyphs" stroke="#111111" stroke-width="0.2" fill="#111111">Benefits</text>
<text x="1634.4" y="1288.9" text-anchor="middle" font-family="Liberation Sans" font-size="27.0" textLength="74.8" lengthAdjust="spacingAndGlyphs" fill="#111111">75–84</text>
<rect x="1493.8" y="1339.25" width="241.9" height="1.1" fill="#dedede"/>
<rect x="1493.8" y="1366.55" width="241.9" height="1.1" fill="#dedede"/>
<rect x="1493.8" y="1393.85" width="241.9" height="1.1" fill="#dedede"/>
<rect x="1493.8" y="1421.15" width="241.9" height="1.1" fill="#dedede"/>
<rect x="1493.8" y="1448.45" width="241.9" height="1.1" fill="#dedede"/>
<rect x="1493.8" y="1475.75" width="241.9" height="1.1" fill="#dedede"/>
<rect x="1493.8" y="1503.05" width="241.9" height="1.1" fill="#dedede"/>
<rect x="1493.8" y="1530.35" width="241.9" height="1.1" fill="#dedede"/>
<rect x="1493.8" y="1557.65" width="241.9" height="1.1" fill="#dedede"/>
<rect x="1493.8" y="1584.95" width="241.9" height="1.1" fill="#dedede"/>
<rect x="1493.8" y="1612.25" width="241.9" height="1.1" fill="#dedede"/>
<rect x="1493.25" y="1612.8" width="1.1" height="4.64" fill="#dedede"/>
<rect x="1614.2" y="1612.8" width="1.1" height="4.64" fill="#dedede"/>
<rect x="1735.15" y="1612.8" width="1.1" height="4.64" fill="#dedede"/>
<rect x="1513.96" y="1609" width="80.63" height="3.8" fill="#d96d02"/>
<rect x="1634.91" y="1504.1" width="80.63" height="108.7" fill="#1c9a09"/>
<rect x="1634.91" y="1435.2" width="80.63" height="68.9" fill="#6be05a"/>
<rect x="1634.91" y="1434.2" width="80.63" height="1" fill="#bfeab5"/>
<text x="1554.28" y="1637.64" text-anchor="middle" font-family="Liberation Sans" font-size="15.28" textLength="38.3" lengthAdjust="spacingAndGlyphs" stroke="#111111" stroke-width="0.2" fill="#111111">Taxes</text>
<text x="1675.22" y="1637.64" text-anchor="middle" font-family="Liberation Sans" font-size="15.28" textLength="54.35" lengthAdjust="spacingAndGlyphs" stroke="#111111" stroke-width="0.2" fill="#111111">Benefits</text>
<text x="1909.3" y="1288.9" text-anchor="middle" font-family="Liberation Sans" font-size="27.0" textLength="47.1" lengthAdjust="spacingAndGlyphs" fill="#111111">85+</text>
<rect x="1758" y="1326.95" width="265.6" height="1.1" fill="#dedede"/>
<rect x="1758" y="1355.63" width="265.6" height="1.1" fill="#dedede"/>
<rect x="1758" y="1384.31" width="265.6" height="1.1" fill="#dedede"/>
<rect x="1758" y="1412.99" width="265.6" height="1.1" fill="#dedede"/>
<rect x="1758" y="1441.67" width="265.6" height="1.1" fill="#dedede"/>
<rect x="1758" y="1470.35" width="265.6" height="1.1" fill="#dedede"/>
<rect x="1758" y="1499.03" width="265.6" height="1.1" fill="#dedede"/>
<rect x="1758" y="1527.71" width="265.6" height="1.1" fill="#dedede"/>
<rect x="1758" y="1556.39" width="265.6" height="1.1" fill="#dedede"/>
<rect x="1758" y="1585.07" width="265.6" height="1.1" fill="#dedede"/>
<rect x="1758" y="1613.75" width="265.6" height="1.1" fill="#dedede"/>
<rect x="1757.45" y="1614.3" width="1.1" height="4.88" fill="#dedede"/>
<rect x="1890.25" y="1614.3" width="1.1" height="4.88" fill="#dedede"/>
<rect x="2023.05" y="1614.3" width="1.1" height="4.88" fill="#dedede"/>
<rect x="1780.13" y="1609.3" width="88.53" height="5" fill="#d96d02"/>
<rect x="1912.93" y="1496.1" width="88.53" height="118.2" fill="#1c9a09"/>
<rect x="1912.93" y="1425.8" width="88.53" height="70.3" fill="#6be05a"/>
<rect x="1912.93" y="1422.4" width="88.53" height="3.4" fill="#bfeab5"/>
<text x="1824.4" y="1640.4" text-anchor="middle" font-family="Liberation Sans" font-size="16.05" textLength="40.23" lengthAdjust="spacingAndGlyphs" stroke="#111111" stroke-width="0.2" fill="#111111">Taxes</text>
<text x="1957.2" y="1640.4" text-anchor="middle" font-family="Liberation Sans" font-size="16.05" textLength="57.1" lengthAdjust="spacingAndGlyphs" stroke="#111111" stroke-width="0.2" fill="#111111">Benefits</text>
<text x="2038.49" y="1332.58" text-anchor="start" font-family="Liberation Sans" font-size="15.14" textLength="51.97" lengthAdjust="spacingAndGlyphs" fill="#111111">50,000</text>
<text x="2038.49" y="1389.94" text-anchor="start" font-family="Liberation Sans" font-size="15.14" textLength="51.97" lengthAdjust="spacingAndGlyphs" fill="#111111">40,000</text>
<text x="2038.49" y="1447.3" text-anchor="start" font-family="Liberation Sans" font-size="15.14" textLength="51.97" lengthAdjust="spacingAndGlyphs" fill="#111111">30,000</text>
<text x="2038.49" y="1504.66" text-anchor="start" font-family="Liberation Sans" font-size="15.14" textLength="51.97" lengthAdjust="spacingAndGlyphs" fill="#111111">20,000</text>
<text x="2038.49" y="1562.02" text-anchor="start" font-family="Liberation Sans" font-size="15.14" textLength="50.04" lengthAdjust="spacingAndGlyphs" fill="#111111">10,000</text>
<text x="2039.1" y="1619.38" text-anchor="start" font-family="Liberation Sans" font-size="15.14" fill="#111111">0</text>
<text transform="translate(2129.3,1475.7) rotate(-90)" text-anchor="middle" font-family="Liberation Sans" font-weight="bold" font-size="15.8" textLength="164.7" lengthAdjust="spacingAndGlyphs" fill="#111111">Per person in 2021 ($)</text>
<text x="41.3" y="1709.9" font-family="Liberation Sans" font-weight="bold" font-size="32.4" textLength="240" lengthAdjust="spacingAndGlyphs" fill="#0a0b33">Fourth quintile:</text>
<text x="267.3" y="1788.9" text-anchor="middle" font-family="Liberation Sans" font-size="27.0" textLength="74.8" lengthAdjust="spacingAndGlyphs" fill="#111111">25–34</text>
<rect x="132.5" y="1841.05" width="240.7" height="1.1" fill="#dedede"/>
<rect x="132.5" y="1868.66" width="240.7" height="1.1" fill="#dedede"/>
<rect x="132.5" y="1896.27" width="240.7" height="1.1" fill="#dedede"/>
<rect x="132.5" y="1923.88" width="240.7" height="1.1" fill="#dedede"/>
<rect x="132.5" y="1951.49" width="240.7" height="1.1" fill="#dedede"/>
<rect x="132.5" y="1979.1" width="240.7" height="1.1" fill="#dedede"/>
<rect x="132.5" y="2006.71" width="240.7" height="1.1" fill="#dedede"/>
<rect x="132.5" y="2034.32" width="240.7" height="1.1" fill="#dedede"/>
<rect x="132.5" y="2061.93" width="240.7" height="1.1" fill="#dedede"/>
<rect x="132.5" y="2089.54" width="240.7" height="1.1" fill="#dedede"/>
<rect x="132.5" y="2117.15" width="240.7" height="1.1" fill="#dedede"/>
<rect x="131.95" y="2117.7" width="1.1" height="4.69" fill="#dedede"/>
<rect x="252.3" y="2117.7" width="1.1" height="4.69" fill="#dedede"/>
<rect x="372.65" y="2117.7" width="1.1" height="4.69" fill="#dedede"/>
<rect x="152.56" y="2100.8" width="80.23" height="16.9" fill="#d96d02"/>
<rect x="152.56" y="2095.8" width="80.23" height="5" fill="#fdb267"/>
<rect x="272.91" y="2114.2" width="80.23" height="3.5" fill="#1c9a09"/>
<rect x="272.91" y="2109.2" width="80.23" height="5" fill="#6be05a"/>
<text x="192.68" y="2142.83" text-anchor="middle" font-family="Liberation Sans" font-size="15.45" textLength="38.73" lengthAdjust="spacingAndGlyphs" stroke="#111111" stroke-width="0.2" fill="#111111">Taxes</text>
<text x="313.02" y="2142.83" text-anchor="middle" font-family="Liberation Sans" font-size="15.45" textLength="54.97" lengthAdjust="spacingAndGlyphs" stroke="#111111" stroke-width="0.2" fill="#111111">Benefits</text>
<text x="117.88" y="1846.49" text-anchor="end" font-family="Liberation Sans" font-size="14.57" textLength="50.03" lengthAdjust="spacingAndGlyphs" fill="#111111">50,000</text>
<text x="117.88" y="1901.71" text-anchor="end" font-family="Liberation Sans" font-size="14.57" textLength="50.03" lengthAdjust="spacingAndGlyphs" fill="#111111">40,000</text>
<text x="117.88" y="1956.93" text-anchor="end" font-family="Liberation Sans" font-size="14.57" textLength="50.03" lengthAdjust="spacingAndGlyphs" fill="#111111">30,000</text>
<text x="117.88" y="2012.15" text-anchor="end" font-family="Liberation Sans" font-size="14.57" textLength="50.03" lengthAdjust="spacingAndGlyphs" fill="#111111">20,000</text>
<text x="117.88" y="2067.37" text-anchor="end" font-family="Liberation Sans" font-size="14.57" textLength="48.17" lengthAdjust="spacingAndGlyphs" fill="#111111">10,000</text>
<text x="117.3" y="2122.59" text-anchor="end" font-family="Liberation Sans" font-size="14.57" fill="#111111">0</text>
<text transform="translate(63.3,1978.3) rotate(-90)" text-anchor="middle" font-family="Liberation Sans" font-weight="bold" font-size="15.8" textLength="159.7" lengthAdjust="spacingAndGlyphs" fill="#111111">Per person in 2021 ($)</text>
<text x="547.3" y="1788.9" text-anchor="middle" font-family="Liberation Sans" font-size="27.0" textLength="78.4" lengthAdjust="spacingAndGlyphs" fill="#111111">35–44</text>
<rect x="400.8" y="1836.15" width="241.9" height="1.1" fill="#dedede"/>
<rect x="400.8" y="1863.53" width="241.9" height="1.1" fill="#dedede"/>
<rect x="400.8" y="1890.91" width="241.9" height="1.1" fill="#dedede"/>
<rect x="400.8" y="1918.29" width="241.9" height="1.1" fill="#dedede"/>
<rect x="400.8" y="1945.67" width="241.9" height="1.1" fill="#dedede"/>
<rect x="400.8" y="1973.05" width="241.9" height="1.1" fill="#dedede"/>
<rect x="400.8" y="2000.43" width="241.9" height="1.1" fill="#dedede"/>
<rect x="400.8" y="2027.81" width="241.9" height="1.1" fill="#dedede"/>
<rect x="400.8" y="2055.19" width="241.9" height="1.1" fill="#dedede"/>
<rect x="400.8" y="2082.57" width="241.9" height="1.1" fill="#dedede"/>
<rect x="400.8" y="2109.95" width="241.9" height="1.1" fill="#dedede"/>
<rect x="400.25" y="2110.5" width="1.1" height="4.65" fill="#dedede"/>
<rect x="521.2" y="2110.5" width="1.1" height="4.65" fill="#dedede"/>
<rect x="642.15" y="2110.5" width="1.1" height="4.65" fill="#dedede"/>
<rect x="420.96" y="2092.7" width="80.63" height="17.8" fill="#d96d02"/>
<rect x="420.96" y="2071.5" width="80.63" height="21.2" fill="#fdb267"/>
<rect x="420.96" y="2065.2" width="80.63" height="6.3" fill="#ff8000"/>
<rect x="541.91" y="2107.5" width="80.63" height="3" fill="#6be05a"/>
<rect x="541.91" y="2102.1" width="80.63" height="5.4" fill="#bfeab5"/>
<text x="461.28" y="2135.42" text-anchor="middle" font-family="Liberation Sans" font-size="15.32" textLength="38.41" lengthAdjust="spacingAndGlyphs" stroke="#111111" stroke-width="0.2" fill="#111111">Taxes</text>
<text x="582.23" y="2135.42" text-anchor="middle" font-family="Liberation Sans" font-size="15.32" textLength="54.51" lengthAdjust="spacingAndGlyphs" stroke="#111111" stroke-width="0.2" fill="#111111">Benefits</text>
<text x="816.6" y="1788.9" text-anchor="middle" font-family="Liberation Sans" font-size="27.0" textLength="77.1" lengthAdjust="spacingAndGlyphs" fill="#111111">45–54</text>
<rect x="671.9" y="1835.55" width="250.6" height="1.1" fill="#dedede"/>
<rect x="671.9" y="1863.8" width="250.6" height="1.1" fill="#dedede"/>
<rect x="671.9" y="1892.05" width="250.6" height="1.1" fill="#dedede"/>
<rect x="671.9" y="1920.3" width="250.6" height="1.1" fill="#dedede"/>
<rect x="671.9" y="1948.55" width="250.6" height="1.1" fill="#dedede"/>
<rect x="671.9" y="1976.8" width="250.6" height="1.1" fill="#dedede"/>
<rect x="671.9" y="2005.05" width="250.6" height="1.1" fill="#dedede"/>
<rect x="671.9" y="2033.3" width="250.6" height="1.1" fill="#dedede"/>
<rect x="671.9" y="2061.55" width="250.6" height="1.1" fill="#dedede"/>
<rect x="671.9" y="2089.8" width="250.6" height="1.1" fill="#dedede"/>
<rect x="671.9" y="2118.05" width="250.6" height="1.1" fill="#dedede"/>
<rect x="671.35" y="2118.6" width="1.1" height="4.8" fill="#dedede"/>
<rect x="796.65" y="2118.6" width="1.1" height="4.8" fill="#dedede"/>
<rect x="921.95" y="2118.6" width="1.1" height="4.8" fill="#dedede"/>
<rect x="692.78" y="2092.4" width="83.53" height="26.2" fill="#d96d02"/>
<rect x="692.78" y="2070.5" width="83.53" height="21.9" fill="#fdb267"/>
<rect x="692.78" y="2062.1" width="83.53" height="8.4" fill="#ff8000"/>
<rect x="818.08" y="2116.6" width="83.53" height="2" fill="#1c9a09"/>
<rect x="818.08" y="2110.5" width="83.53" height="6.1" fill="#6be05a"/>
<rect x="818.08" y="2107.8" width="83.53" height="2.7" fill="#bfeab5"/>
<text x="734.55" y="2144.31" text-anchor="middle" font-family="Liberation Sans" font-size="15.81" textLength="39.63" lengthAdjust="spacingAndGlyphs" stroke="#111111" stroke-width="0.2" fill="#111111">Taxes</text>
<text x="859.85" y="2144.31" text-anchor="middle" font-family="Liberation Sans" font-size="15.81" textLength="56.24" lengthAdjust="spacingAndGlyphs" stroke="#111111" stroke-width="0.2" fill="#111111">Benefits</text>
<text x="1084" y="1788.9" text-anchor="middle" font-family="Liberation Sans" font-size="27.0" textLength="76.8" lengthAdjust="spacingAndGlyphs" fill="#111111">55–64</text>
<rect x="939.1" y="1825.75" width="248.6" height="1.1" fill="#dedede"/>
<rect x="939.1" y="1853.4" width="248.6" height="1.1" fill="#dedede"/>
<rect x="939.1" y="1881.05" width="248.6" height="1.1" fill="#dedede"/>
<rect x="939.1" y="1908.7" width="248.6" height="1.1" fill="#dedede"/>
<rect x="939.1" y="1936.35" width="248.6" height="1.1" fill="#dedede"/>
<rect x="939.1" y="1964" width="248.6" height="1.1" fill="#dedede"/>
<rect x="939.1" y="1991.65" width="248.6" height="1.1" fill="#dedede"/>
<rect x="939.1" y="2019.3" width="248.6" height="1.1" fill="#dedede"/>
<rect x="939.1" y="2046.95" width="248.6" height="1.1" fill="#dedede"/>
<rect x="939.1" y="2074.6" width="248.6" height="1.1" fill="#dedede"/>
<rect x="939.1" y="2102.25" width="248.6" height="1.1" fill="#dedede"/>
<rect x="938.55" y="2102.8" width="1.1" height="4.7" fill="#dedede"/>
<rect x="1062.85" y="2102.8" width="1.1" height="4.7" fill="#dedede"/>
<rect x="1187.15" y="2102.8" width="1.1" height="4.7" fill="#dedede"/>
<rect x="959.82" y="2082.6" width="82.87" height="20.2" fill="#d96d02"/>
<rect x="959.82" y="2067.5" width="82.87" height="15.1" fill="#fdb267"/>
<rect x="959.82" y="2062.5" width="82.87" height="5" fill="#ff8000"/>
<rect x="1084.12" y="2089.7" width="82.87" height="13.1" fill="#1c9a09"/>
<rect x="1084.12" y="2074.6" width="82.87" height="15.1" fill="#6be05a"/>
<rect x="1084.12" y="2070.5" width="82.87" height="4.1" fill="#bfeab5"/>
<text x="1001.25" y="2127.96" text-anchor="middle" font-family="Liberation Sans" font-size="15.48" textLength="38.79" lengthAdjust="spacingAndGlyphs" stroke="#111111" stroke-width="0.2" fill="#111111">Taxes</text>
<text x="1125.55" y="2127.96" text-anchor="middle" font-family="Liberation Sans" font-size="15.48" textLength="55.05" lengthAdjust="spacingAndGlyphs" stroke="#111111" stroke-width="0.2" fill="#111111">Benefits</text>
<text x="1363" y="1788.9" text-anchor="middle" font-family="Liberation Sans" font-size="27.0" textLength="69.4" lengthAdjust="spacingAndGlyphs" fill="#111111">65–74</text>
<rect x="1217.3" y="1823.45" width="246.2" height="1.1" fill="#dedede"/>
<rect x="1217.3" y="1851.43" width="246.2" height="1.1" fill="#dedede"/>
<rect x="1217.3" y="1879.41" width="246.2" height="1.1" fill="#dedede"/>
<rect x="1217.3" y="1907.39" width="246.2" height="1.1" fill="#dedede"/>
<rect x="1217.3" y="1935.37" width="246.2" height="1.1" fill="#dedede"/>
<rect x="1217.3" y="1963.35" width="246.2" height="1.1" fill="#dedede"/>
<rect x="1217.3" y="1991.33" width="246.2" height="1.1" fill="#dedede"/>
<rect x="1217.3" y="2019.31" width="246.2" height="1.1" fill="#dedede"/>
<rect x="1217.3" y="2047.29" width="246.2" height="1.1" fill="#dedede"/>
<rect x="1217.3" y="2075.27" width="246.2" height="1.1" fill="#dedede"/>
<rect x="1217.3" y="2103.25" width="246.2" height="1.1" fill="#dedede"/>
<rect x="1216.75" y="2103.8" width="1.1" height="4.76" fill="#dedede"/>
<rect x="1339.85" y="2103.8" width="1.1" height="4.76" fill="#dedede"/>
<rect x="1462.95" y="2103.8" width="1.1" height="4.76" fill="#dedede"/>
<rect x="1237.82" y="2097.7" width="82.07" height="6.1" fill="#d96d02"/>
<rect x="1237.82" y="2093.7" width="82.07" height="4" fill="#fdb267"/>
<rect x="1360.92" y="2003.7" width="82.07" height="100.1" fill="#1c9a09"/>
<rect x="1360.92" y="1962" width="82.07" height="41.7" fill="#6be05a"/>
<rect x="1360.92" y="1959" width="82.07" height="3" fill="#bfeab5"/>
<text x="1278.85" y="2129.26" text-anchor="middle" font-family="Liberation Sans" font-size="15.66" textLength="39.25" lengthAdjust="spacingAndGlyphs" stroke="#111111" stroke-width="0.2" fill="#111111">Taxes</text>
<text x="1401.95" y="2129.26" text-anchor="middle" font-family="Liberation Sans" font-size="15.66" textLength="55.7" lengthAdjust="spacingAndGlyphs" stroke="#111111" stroke-width="0.2" fill="#111111">Benefits</text>
<text x="1634.4" y="1788.9" text-anchor="middle" font-family="Liberation Sans" font-size="27.0" textLength="74.8" lengthAdjust="spacingAndGlyphs" fill="#111111">75–84</text>
<rect x="1493.8" y="1839.25" width="241.9" height="1.1" fill="#dedede"/>
<rect x="1493.8" y="1866.55" width="241.9" height="1.1" fill="#dedede"/>
<rect x="1493.8" y="1893.85" width="241.9" height="1.1" fill="#dedede"/>
<rect x="1493.8" y="1921.15" width="241.9" height="1.1" fill="#dedede"/>
<rect x="1493.8" y="1948.45" width="241.9" height="1.1" fill="#dedede"/>
<rect x="1493.8" y="1975.75" width="241.9" height="1.1" fill="#dedede"/>
<rect x="1493.8" y="2003.05" width="241.9" height="1.1" fill="#dedede"/>
<rect x="1493.8" y="2030.35" width="241.9" height="1.1" fill="#dedede"/>
<rect x="1493.8" y="2057.65" width="241.9" height="1.1" fill="#dedede"/>
<rect x="1493.8" y="2084.95" width="241.9" height="1.1" fill="#dedede"/>
<rect x="1493.8" y="2112.25" width="241.9" height="1.1" fill="#dedede"/>
<rect x="1493.25" y="2112.8" width="1.1" height="4.64" fill="#dedede"/>
<rect x="1614.2" y="2112.8" width="1.1" height="4.64" fill="#dedede"/>
<rect x="1735.15" y="2112.8" width="1.1" height="4.64" fill="#dedede"/>
<rect x="1513.96" y="2109" width="80.63" height="3.8" fill="#d96d02"/>
<rect x="1634.91" y="2004.1" width="80.63" height="108.7" fill="#1c9a09"/>
<rect x="1634.91" y="1935.2" width="80.63" height="68.9" fill="#6be05a"/>
<rect x="1634.91" y="1934.2" width="80.63" height="1" fill="#bfeab5"/>
<text x="1554.28" y="2137.64" text-anchor="middle" font-family="Liberation Sans" font-size="15.28" textLength="38.3" lengthAdjust="spacingAndGlyphs" stroke="#111111" stroke-width="0.2" fill="#111111">Taxes</text>
<text x="1675.22" y="2137.64" text-anchor="middle" font-family="Liberation Sans" font-size="15.28" textLength="54.35" lengthAdjust="spacingAndGlyphs" stroke="#111111" stroke-width="0.2" fill="#111111">Benefits</text>
<text x="1909.3" y="1788.9" text-anchor="middle" font-family="Liberation Sans" font-size="27.0" textLength="47.1" lengthAdjust="spacingAndGlyphs" fill="#111111">85+</text>
<rect x="1758" y="1826.95" width="265.6" height="1.1" fill="#dedede"/>
<rect x="1758" y="1855.63" width="265.6" height="1.1" fill="#dedede"/>
<rect x="1758" y="1884.31" width="265.6" height="1.1" fill="#dedede"/>
<rect x="1758" y="1912.99" width="265.6" height="1.1" fill="#dedede"/>
<rect x="1758" y="1941.67" width="265.6" height="1.1" fill="#dedede"/>
<rect x="1758" y="1970.35" width="265.6" height="1.1" fill="#dedede"/>
<rect x="1758" y="1999.03" width="265.6" height="1.1" fill="#dedede"/>
<rect x="1758" y="2027.71" width="265.6" height="1.1" fill="#dedede"/>
<rect x="1758" y="2056.39" width="265.6" height="1.1" fill="#dedede"/>
<rect x="1758" y="2085.07" width="265.6" height="1.1" fill="#dedede"/>
<rect x="1758" y="2113.75" width="265.6" height="1.1" fill="#dedede"/>
<rect x="1757.45" y="2114.3" width="1.1" height="4.88" fill="#dedede"/>
<rect x="1890.25" y="2114.3" width="1.1" height="4.88" fill="#dedede"/>
<rect x="2023.05" y="2114.3" width="1.1" height="4.88" fill="#dedede"/>
<rect x="1780.13" y="2109.3" width="88.53" height="5" fill="#d96d02"/>
<rect x="1912.93" y="1996.1" width="88.53" height="118.2" fill="#1c9a09"/>
<rect x="1912.93" y="1925.8" width="88.53" height="70.3" fill="#6be05a"/>
<rect x="1912.93" y="1922.4" width="88.53" height="3.4" fill="#bfeab5"/>
<text x="1824.4" y="2140.4" text-anchor="middle" font-family="Liberation Sans" font-size="16.05" textLength="40.23" lengthAdjust="spacingAndGlyphs" stroke="#111111" stroke-width="0.2" fill="#111111">Taxes</text>
<text x="1957.2" y="2140.4" text-anchor="middle" font-family="Liberation Sans" font-size="16.05" textLength="57.1" lengthAdjust="spacingAndGlyphs" stroke="#111111" stroke-width="0.2" fill="#111111">Benefits</text>
<text x="2038.49" y="1832.58" text-anchor="start" font-family="Liberation Sans" font-size="15.14" textLength="51.97" lengthAdjust="spacingAndGlyphs" fill="#111111">50,000</text>
<text x="2038.49" y="1889.94" text-anchor="start" font-family="Liberation Sans" font-size="15.14" textLength="51.97" lengthAdjust="spacingAndGlyphs" fill="#111111">40,000</text>
<text x="2038.49" y="1947.3" text-anchor="start" font-family="Liberation Sans" font-size="15.14" textLength="51.97" lengthAdjust="spacingAndGlyphs" fill="#111111">30,000</text>
<text x="2038.49" y="2004.66" text-anchor="start" font-family="Liberation Sans" font-size="15.14" textLength="51.97" lengthAdjust="spacingAndGlyphs" fill="#111111">20,000</text>
<text x="2038.49" y="2062.02" text-anchor="start" font-family="Liberation Sans" font-size="15.14" textLength="50.04" lengthAdjust="spacingAndGlyphs" fill="#111111">10,000</text>
<text x="2039.1" y="2119.38" text-anchor="start" font-family="Liberation Sans" font-size="15.14" fill="#111111">0</text>
<text transform="translate(2129.3,1975.7) rotate(-90)" text-anchor="middle" font-family="Liberation Sans" font-weight="bold" font-size="15.8" textLength="164.7" lengthAdjust="spacingAndGlyphs" fill="#111111">Per person in 2021 ($)</text>
<text x="41.3" y="2209.9" font-family="Liberation Sans" font-weight="bold" font-size="32.4" textLength="190.5" lengthAdjust="spacingAndGlyphs" fill="#0a0b33">Top quintile:</text>
<text x="267.3" y="2288.9" text-anchor="middle" font-family="Liberation Sans" font-size="27.0" textLength="74.8" lengthAdjust="spacingAndGlyphs" fill="#111111">25–34</text>
<rect x="132.5" y="2341.05" width="239.1" height="1.1" fill="#dedede"/>
<rect x="132.5" y="2368.69" width="239.1" height="1.1" fill="#dedede"/>
<rect x="132.5" y="2396.33" width="239.1" height="1.1" fill="#dedede"/>
<rect x="132.5" y="2423.97" width="239.1" height="1.1" fill="#dedede"/>
<rect x="132.5" y="2451.61" width="239.1" height="1.1" fill="#dedede"/>
<rect x="132.5" y="2479.25" width="239.1" height="1.1" fill="#dedede"/>
<rect x="132.5" y="2506.89" width="239.1" height="1.1" fill="#dedede"/>
<rect x="132.5" y="2534.53" width="239.1" height="1.1" fill="#dedede"/>
<rect x="132.5" y="2562.17" width="239.1" height="1.1" fill="#dedede"/>
<rect x="132.5" y="2589.81" width="239.1" height="1.1" fill="#dedede"/>
<rect x="132.5" y="2617.45" width="239.1" height="1.1" fill="#dedede"/>
<rect x="131.95" y="2618" width="1.1" height="4.7" fill="#dedede"/>
<rect x="251.5" y="2618" width="1.1" height="4.7" fill="#dedede"/>
<rect x="371.05" y="2618" width="1.1" height="4.7" fill="#dedede"/>
<rect x="152.43" y="2510.2" width="79.7" height="107.8" fill="#d96d02"/>
<rect x="152.43" y="2461" width="79.7" height="49.2" fill="#fdb267"/>
<rect x="152.43" y="2434.2" width="79.7" height="26.8" fill="#ff8000"/>
<rect x="271.98" y="2616.5" width="79.7" height="1.5" fill="#6be05a"/>
<text x="192.28" y="2643.15" text-anchor="middle" font-family="Liberation Sans" font-size="15.47" textLength="38.77" lengthAdjust="spacingAndGlyphs" stroke="#111111" stroke-width="0.2" fill="#111111">Taxes</text>
<text x="311.83" y="2643.15" text-anchor="middle" font-family="Liberation Sans" font-size="15.47" textLength="55.03" lengthAdjust="spacingAndGlyphs" stroke="#111111" stroke-width="0.2" fill="#111111">Benefits</text>
<text x="117.88" y="2346.5" text-anchor="end" font-family="Liberation Sans" font-size="14.59" textLength="50.08" lengthAdjust="spacingAndGlyphs" fill="#111111">50,000</text>
<text x="117.88" y="2401.78" text-anchor="end" font-family="Liberation Sans" font-size="14.59" textLength="50.08" lengthAdjust="spacingAndGlyphs" fill="#111111">40,000</text>
<text x="117.88" y="2457.06" text-anchor="end" font-family="Liberation Sans" font-size="14.59" textLength="50.08" lengthAdjust="spacingAndGlyphs" fill="#111111">30,000</text>
<text x="117.88" y="2512.34" text-anchor="end" font-family="Liberation Sans" font-size="14.59" textLength="50.08" lengthAdjust="spacingAndGlyphs" fill="#111111">20,000</text>
<text x="117.88" y="2567.62" text-anchor="end" font-family="Liberation Sans" font-size="14.59" textLength="48.22" lengthAdjust="spacingAndGlyphs" fill="#111111">10,000</text>
<text x="117.3" y="2622.9" text-anchor="end" font-family="Liberation Sans" font-size="14.59" fill="#111111">0</text>
<text transform="translate(63.8,2480) rotate(-90)" text-anchor="middle" font-family="Liberation Sans" font-weight="bold" font-size="15.8" textLength="156.3" lengthAdjust="spacingAndGlyphs" fill="#111111">Per person in 2021 ($)</text>
<text x="547.3" y="2288.9" text-anchor="middle" font-family="Liberation Sans" font-size="27.0" textLength="78.4" lengthAdjust="spacingAndGlyphs" fill="#111111">35–44</text>
<rect x="400.8" y="2342.95" width="241.9" height="1.1" fill="#dedede"/>
<rect x="400.8" y="2370.49" width="241.9" height="1.1" fill="#dedede"/>
<rect x="400.8" y="2398.03" width="241.9" height="1.1" fill="#dedede"/>
<rect x="400.8" y="2425.57" width="241.9" height="1.1" fill="#dedede"/>
<rect x="400.8" y="2453.11" width="241.9" height="1.1" fill="#dedede"/>
<rect x="400.8" y="2480.65" width="241.9" height="1.1" fill="#dedede"/>
<rect x="400.8" y="2508.19" width="241.9" height="1.1" fill="#dedede"/>
<rect x="400.8" y="2535.73" width="241.9" height="1.1" fill="#dedede"/>
<rect x="400.8" y="2563.27" width="241.9" height="1.1" fill="#dedede"/>
<rect x="400.8" y="2590.81" width="241.9" height="1.1" fill="#dedede"/>
<rect x="400.8" y="2618.35" width="241.9" height="1.1" fill="#dedede"/>
<rect x="400.25" y="2618.9" width="1.1" height="4.68" fill="#dedede"/>
<rect x="521.2" y="2618.9" width="1.1" height="4.68" fill="#dedede"/>
<rect x="642.15" y="2618.9" width="1.1" height="4.68" fill="#dedede"/>
<rect x="420.96" y="2473.5" width="80.63" height="145.4" fill="#d96d02"/>
<rect x="420.96" y="2413" width="80.63" height="60.5" fill="#fdb267"/>
<rect x="420.96" y="2378.1" width="80.63" height="34.9" fill="#ff8000"/>
<rect x="541.91" y="2618.2" width="80.63" height="0.7" fill="#6be05a"/>
<text x="461.28" y="2643.96" text-anchor="middle" font-family="Liberation Sans" font-size="15.41" textLength="38.63" lengthAdjust="spacingAndGlyphs" stroke="#111111" stroke-width="0.2" fill="#111111">Taxes</text>
<text x="582.23" y="2643.96" text-anchor="middle" font-family="Liberation Sans" font-size="15.41" textLength="54.83" lengthAdjust="spacingAndGlyphs" stroke="#111111" stroke-width="0.2" fill="#111111">Benefits</text>
<text x="816.6" y="2288.9" text-anchor="middle" font-family="Liberation Sans" font-size="27.0" textLength="77.1" lengthAdjust="spacingAndGlyphs" fill="#111111">45–54</text>
<rect x="683.3" y="2338.85" width="237.5" height="1.1" fill="#dedede"/>
<rect x="683.3" y="2366.8" width="237.5" height="1.1" fill="#dedede"/>
<rect x="683.3" y="2394.75" width="237.5" height="1.1" fill="#dedede"/>
<rect x="683.3" y="2422.7" width="237.5" height="1.1" fill="#dedede"/>
<rect x="683.3" y="2450.65" width="237.5" height="1.1" fill="#dedede"/>
<rect x="683.3" y="2478.6" width="237.5" height="1.1" fill="#dedede"/>
<rect x="683.3" y="2506.55" width="237.5" height="1.1" fill="#dedede"/>
<rect x="683.3" y="2534.5" width="237.5" height="1.1" fill="#dedede"/>
<rect x="683.3" y="2562.45" width="237.5" height="1.1" fill="#dedede"/>
<rect x="683.3" y="2590.4" width="237.5" height="1.1" fill="#dedede"/>
<rect x="683.3" y="2618.35" width="237.5" height="1.1" fill="#dedede"/>
<rect x="682.75" y="2618.9" width="1.1" height="4.75" fill="#dedede"/>
<rect x="801.5" y="2618.9" width="1.1" height="4.75" fill="#dedede"/>
<rect x="920.25" y="2618.9" width="1.1" height="4.75" fill="#dedede"/>
<rect x="703.09" y="2452.6" width="79.17" height="166.3" fill="#d96d02"/>
<rect x="703.09" y="2388.5" width="79.17" height="64.1" fill="#fdb267"/>
<rect x="703.09" y="2349.8" width="79.17" height="38.7" fill="#ff8000"/>
<rect x="821.84" y="2617.2" width="79.17" height="1.7" fill="#6be05a"/>
<text x="742.67" y="2644.33" text-anchor="middle" font-family="Liberation Sans" font-size="15.64" textLength="39.21" lengthAdjust="spacingAndGlyphs" stroke="#111111" stroke-width="0.2" fill="#111111">Taxes</text>
<text x="861.42" y="2644.33" text-anchor="middle" font-family="Liberation Sans" font-size="15.64" textLength="55.64" lengthAdjust="spacingAndGlyphs" stroke="#111111" stroke-width="0.2" fill="#111111">Benefits</text>
<text x="1084" y="2288.9" text-anchor="middle" font-family="Liberation Sans" font-size="27.0" textLength="76.8" lengthAdjust="spacingAndGlyphs" fill="#111111">55–64</text>
<rect x="939.5" y="2338.25" width="247.9" height="1.1" fill="#dedede"/>
<rect x="939.5" y="2366.16" width="247.9" height="1.1" fill="#dedede"/>
<rect x="939.5" y="2394.07" width="247.9" height="1.1" fill="#dedede"/>
<rect x="939.5" y="2421.98" width="247.9" height="1.1" fill="#dedede"/>
<rect x="939.5" y="2449.89" width="247.9" height="1.1" fill="#dedede"/>
<rect x="939.5" y="2477.8" width="247.9" height="1.1" fill="#dedede"/>
<rect x="939.5" y="2505.71" width="247.9" height="1.1" fill="#dedede"/>
<rect x="939.5" y="2533.62" width="247.9" height="1.1" fill="#dedede"/>
<rect x="939.5" y="2561.53" width="247.9" height="1.1" fill="#dedede"/>
<rect x="939.5" y="2589.44" width="247.9" height="1.1" fill="#dedede"/>
<rect x="939.5" y="2617.35" width="247.9" height="1.1" fill="#dedede"/>
<rect x="938.95" y="2617.9" width="1.1" height="4.74" fill="#dedede"/>
<rect x="1062.9" y="2617.9" width="1.1" height="4.74" fill="#dedede"/>
<rect x="1186.85" y="2617.9" width="1.1" height="4.74" fill="#dedede"/>
<rect x="960.16" y="2470.1" width="82.63" height="147.8" fill="#d96d02"/>
<rect x="960.16" y="2415" width="82.63" height="55.1" fill="#fdb267"/>
<rect x="960.16" y="2381.1" width="82.63" height="33.9" fill="#ff8000"/>
<rect x="1084.11" y="2614.2" width="82.63" height="3.7" fill="#1c9a09"/>
<rect x="1084.11" y="2612.9" width="82.63" height="1.3" fill="#6be05a"/>
<text x="1001.48" y="2643.3" text-anchor="middle" font-family="Liberation Sans" font-size="15.62" textLength="39.15" lengthAdjust="spacingAndGlyphs" stroke="#111111" stroke-width="0.2" fill="#111111">Taxes</text>
<text x="1125.43" y="2643.3" text-anchor="middle" font-family="Liberation Sans" font-size="15.62" textLength="55.56" lengthAdjust="spacingAndGlyphs" stroke="#111111" stroke-width="0.2" fill="#111111">Benefits</text>
<text x="1363" y="2288.9" text-anchor="middle" font-family="Liberation Sans" font-size="27.0" textLength="69.4" lengthAdjust="spacingAndGlyphs" fill="#111111">65–74</text>
<rect x="1218" y="2332.85" width="245.5" height="1.1" fill="#dedede"/>
<rect x="1218" y="2360.9" width="245.5" height="1.1" fill="#dedede"/>
<rect x="1218" y="2388.95" width="245.5" height="1.1" fill="#dedede"/>
<rect x="1218" y="2417" width="245.5" height="1.1" fill="#dedede"/>
<rect x="1218" y="2445.05" width="245.5" height="1.1" fill="#dedede"/>
<rect x="1218" y="2473.1" width="245.5" height="1.1" fill="#dedede"/>
<rect x="1218" y="2501.15" width="245.5" height="1.1" fill="#dedede"/>
<rect x="1218" y="2529.2" width="245.5" height="1.1" fill="#dedede"/>
<rect x="1218" y="2557.25" width="245.5" height="1.1" fill="#dedede"/>
<rect x="1218" y="2585.3" width="245.5" height="1.1" fill="#dedede"/>
<rect x="1218" y="2613.35" width="245.5" height="1.1" fill="#dedede"/>
<rect x="1217.45" y="2613.9" width="1.1" height="4.77" fill="#dedede"/>
<rect x="1340.2" y="2613.9" width="1.1" height="4.77" fill="#dedede"/>
<rect x="1462.95" y="2613.9" width="1.1" height="4.77" fill="#dedede"/>
<rect x="1238.46" y="2517.1" width="81.83" height="96.8" fill="#d96d02"/>
<rect x="1238.46" y="2490.3" width="81.83" height="26.8" fill="#fdb267"/>
<rect x="1238.46" y="2469.8" width="81.83" height="20.5" fill="#ff8000"/>
<rect x="1361.21" y="2520.5" width="81.83" height="93.4" fill="#1c9a09"/>
<rect x="1361.21" y="2490.3" width="81.83" height="30.2" fill="#6be05a"/>
<text x="1279.38" y="2639.43" text-anchor="middle" font-family="Liberation Sans" font-size="15.7" textLength="39.35" lengthAdjust="spacingAndGlyphs" stroke="#111111" stroke-width="0.2" fill="#111111">Taxes</text>
<text x="1402.12" y="2639.43" text-anchor="middle" font-family="Liberation Sans" font-size="15.7" textLength="55.84" lengthAdjust="spacingAndGlyphs" stroke="#111111" stroke-width="0.2" fill="#111111">Benefits</text>
<text x="1634.4" y="2288.9" text-anchor="middle" font-family="Liberation Sans" font-size="27.0" textLength="74.8" lengthAdjust="spacingAndGlyphs" fill="#111111">75–84</text>
<rect x="1490" y="2330.85" width="247.6" height="1.1" fill="#dedede"/>
<rect x="1490" y="2359.41" width="247.6" height="1.1" fill="#dedede"/>
<rect x="1490" y="2387.97" width="247.6" height="1.1" fill="#dedede"/>
<rect x="1490" y="2416.53" width="247.6" height="1.1" fill="#dedede"/>
<rect x="1490" y="2445.09" width="247.6" height="1.1" fill="#dedede"/>
<rect x="1490" y="2473.65" width="247.6" height="1.1" fill="#dedede"/>
<rect x="1490" y="2502.21" width="247.6" height="1.1" fill="#dedede"/>
<rect x="1490" y="2530.77" width="247.6" height="1.1" fill="#dedede"/>
<rect x="1490" y="2559.33" width="247.6" height="1.1" fill="#dedede"/>
<rect x="1490" y="2587.89" width="247.6" height="1.1" fill="#dedede"/>
<rect x="1490" y="2616.45" width="247.6" height="1.1" fill="#dedede"/>
<rect x="1489.45" y="2617" width="1.1" height="4.86" fill="#dedede"/>
<rect x="1613.25" y="2617" width="1.1" height="4.86" fill="#dedede"/>
<rect x="1737.05" y="2617" width="1.1" height="4.86" fill="#dedede"/>
<rect x="1510.63" y="2541.8" width="82.53" height="75.2" fill="#d96d02"/>
<rect x="1510.63" y="2531.8" width="82.53" height="10" fill="#fdb267"/>
<rect x="1510.63" y="2516.8" width="82.53" height="15" fill="#ff8000"/>
<rect x="1634.43" y="2492.6" width="82.53" height="124.4" fill="#1c9a09"/>
<rect x="1634.43" y="2446.6" width="82.53" height="46" fill="#6be05a"/>
<text x="1551.9" y="2642.99" text-anchor="middle" font-family="Liberation Sans" font-size="15.98" textLength="40.06" lengthAdjust="spacingAndGlyphs" stroke="#111111" stroke-width="0.2" fill="#111111">Taxes</text>
<text x="1675.7" y="2642.99" text-anchor="middle" font-family="Liberation Sans" font-size="15.98" textLength="56.86" lengthAdjust="spacingAndGlyphs" stroke="#111111" stroke-width="0.2" fill="#111111">Benefits</text>
<text x="1909.3" y="2288.9" text-anchor="middle" font-family="Liberation Sans" font-size="27.0" textLength="47.1" lengthAdjust="spacingAndGlyphs" fill="#111111">85+</text>
<rect x="1754.5" y="2331.95" width="259.9" height="1.1" fill="#dedede"/>
<rect x="1754.5" y="2360.52" width="259.9" height="1.1" fill="#dedede"/>
<rect x="1754.5" y="2389.09" width="259.9" height="1.1" fill="#dedede"/>
<rect x="1754.5" y="2417.66" width="259.9" height="1.1" fill="#dedede"/>
<rect x="1754.5" y="2446.23" width="259.9" height="1.1" fill="#dedede"/>
<rect x="1754.5" y="2474.8" width="259.9" height="1.1" fill="#dedede"/>
<rect x="1754.5" y="2503.37" width="259.9" height="1.1" fill="#dedede"/>
<rect x="1754.5" y="2531.94" width="259.9" height="1.1" fill="#dedede"/>
<rect x="1754.5" y="2560.51" width="259.9" height="1.1" fill="#dedede"/>
<rect x="1754.5" y="2589.08" width="259.9" height="1.1" fill="#dedede"/>
<rect x="1754.5" y="2617.65" width="259.9" height="1.1" fill="#dedede"/>
<rect x="1753.95" y="2618.2" width="1.1" height="4.86" fill="#dedede"/>
<rect x="1883.9" y="2618.2" width="1.1" height="4.86" fill="#dedede"/>
<rect x="2013.85" y="2618.2" width="1.1" height="4.86" fill="#dedede"/>
<rect x="1776.16" y="2546.8" width="86.63" height="71.4" fill="#d96d02"/>
<rect x="1776.16" y="2541.8" width="86.63" height="5" fill="#fdb267"/>
<rect x="1776.16" y="2526.4" width="86.63" height="15.4" fill="#ff8000"/>
<rect x="1906.11" y="2504.1" width="86.63" height="114.1" fill="#1c9a09"/>
<rect x="1906.11" y="2427" width="86.63" height="77.1" fill="#6be05a"/>
<text x="1819.47" y="2644.2" text-anchor="middle" font-family="Liberation Sans" font-size="15.99" textLength="40.08" lengthAdjust="spacingAndGlyphs" stroke="#111111" stroke-width="0.2" fill="#111111">Taxes</text>
<text x="1949.43" y="2644.2" text-anchor="middle" font-family="Liberation Sans" font-size="15.99" textLength="56.88" lengthAdjust="spacingAndGlyphs" stroke="#111111" stroke-width="0.2" fill="#111111">Benefits</text>
<text x="2029.3" y="2337.56" text-anchor="start" font-family="Liberation Sans" font-size="15.08" textLength="51.77" lengthAdjust="spacingAndGlyphs" fill="#111111">50,000</text>
<text x="2029.3" y="2394.7" text-anchor="start" font-family="Liberation Sans" font-size="15.08" textLength="51.77" lengthAdjust="spacingAndGlyphs" fill="#111111">40,000</text>
<text x="2029.3" y="2451.84" text-anchor="start" font-family="Liberation Sans" font-size="15.08" textLength="51.77" lengthAdjust="spacingAndGlyphs" fill="#111111">30,000</text>
<text x="2029.3" y="2508.98" text-anchor="start" font-family="Liberation Sans" font-size="15.08" textLength="51.77" lengthAdjust="spacingAndGlyphs" fill="#111111">20,000</text>
<text x="2029.3" y="2566.12" text-anchor="start" font-family="Liberation Sans" font-size="15.08" textLength="49.84" lengthAdjust="spacingAndGlyphs" fill="#111111">10,000</text>
<text x="2029.9" y="2623.26" text-anchor="start" font-family="Liberation Sans" font-size="15.08" fill="#111111">0</text>
<text transform="translate(2114.5,2485.4) rotate(-90)" text-anchor="middle" font-family="Liberation Sans" font-weight="bold" font-size="15.8" textLength="160.2" lengthAdjust="spacingAndGlyphs" fill="#111111">Per person in 2021 ($)</text>
<text x="42.6" y="2710.3" font-family="Liberation Sans" font-weight="bold" font-size="32" textLength="118.8" lengthAdjust="spacingAndGlyphs" fill="#0a0b33">Legend:</text>
<rect x="63.5" y="2752" width="33.2" height="33" fill="#ff8000"/>
<text x="113.9" y="2778" font-family="Liberation Sans" font-size="31" textLength="168.8" lengthAdjust="spacingAndGlyphs" fill="#111111">State Taxes</text>
<rect x="350.4" y="2752" width="33.2" height="33" fill="#fdb267"/>
<text x="401.5" y="2778" font-family="Liberation Sans" font-size="31" textLength="156.9" lengthAdjust="spacingAndGlyphs" fill="#111111">Payroll Tax</text>
<rect x="625.9" y="2752" width="33.2" height="33" fill="#d96d02"/>
<text x="677.4" y="2778" font-family="Liberation Sans" font-size="31" textLength="164.5" lengthAdjust="spacingAndGlyphs" fill="#111111">Income Tax</text>
<rect x="909.6" y="2752" width="33.2" height="33" fill="#bfeab5"/>
<text x="960" y="2778" font-family="Liberation Sans" font-size="31" textLength="213.4" lengthAdjust="spacingAndGlyphs" fill="#111111">Other Benefits</text>
<rect x="1241.7" y="2752" width="33.2" height="33" fill="#6be05a"/>
<text x="1292.8" y="2778" font-family="Liberation Sans" font-size="31" textLength="174.3" lengthAdjust="spacingAndGlyphs" fill="#111111">Health Care</text>
<rect x="1534.6" y="2752" width="33.2" height="33" fill="#1c9a09"/>
<text x="1584.9" y="2778" font-family="Liberation Sans" font-size="31" textLength="219.5" lengthAdjust="spacingAndGlyphs" fill="#111111">Social Security</text>
<text x="42" y="2860" font-family="Liberation Serif" font-size="31" textLength="1058" lengthAdjust="spacingAndGlyphs" fill="#111111">Source: ASEC; Medical Expenditure Panel Survey Household Component Overview</text>
</svg>
</body></html>
